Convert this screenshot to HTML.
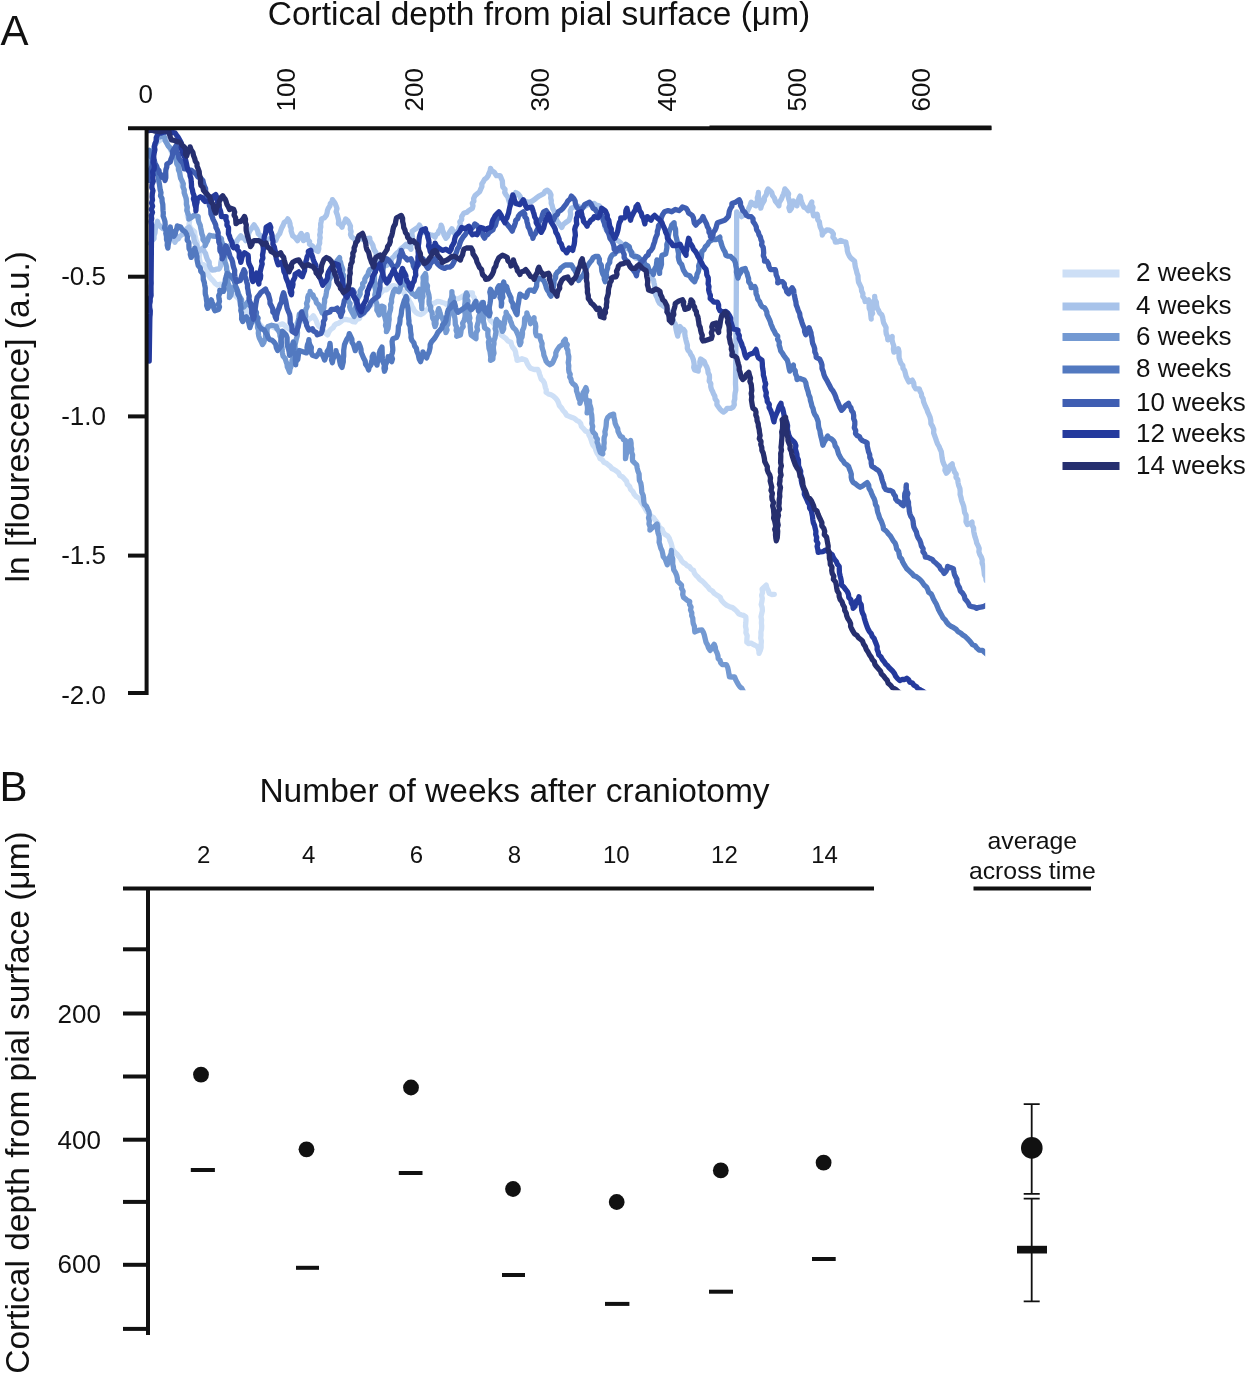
<!DOCTYPE html>
<html><head><meta charset="utf-8"><title>Figure</title>
<style>html,body{margin:0;padding:0;background:#fff}svg{display:block}</style></head>
<body>
<svg width="1245" height="1374" viewBox="0 0 1245 1374" font-family='"Liberation Sans", Arial, sans-serif' fill="#111">
<rect width="1245" height="1374" fill="#fff"/>
<text x="0.5" y="45.3" font-size="42">A</text>
<text x="539" y="24.8" font-size="33.5" text-anchor="middle">Cortical depth from pial surface (μm)</text>
<text x="145.7" y="103" font-size="26" text-anchor="middle">0</text>
<text transform="translate(295.2,89.8) rotate(-90)" font-size="26" text-anchor="middle">100</text>
<text transform="translate(422.9,89.8) rotate(-90)" font-size="26" text-anchor="middle">200</text>
<text transform="translate(549.0,89.8) rotate(-90)" font-size="26" text-anchor="middle">300</text>
<text transform="translate(676.2,89.8) rotate(-90)" font-size="26" text-anchor="middle">400</text>
<text transform="translate(805.6,89.8) rotate(-90)" font-size="26" text-anchor="middle">500</text>
<text transform="translate(930.2,89.8) rotate(-90)" font-size="26" text-anchor="middle">600</text>
<text x="106" y="285.1" font-size="26" text-anchor="end">-0.5</text>
<text x="106" y="424.6" font-size="26" text-anchor="end">-1.0</text>
<text x="106" y="564.1" font-size="26" text-anchor="end">-1.5</text>
<text x="106" y="703.6" font-size="26" text-anchor="end">-2.0</text>
<text transform="translate(28.5,416.7) rotate(-90)" font-size="33.5" text-anchor="middle">ln [flourescence] (a.u.)</text>
<clipPath id="cp"><rect x="146" y="126" width="839.2" height="564.3"/></clipPath>
<g fill="none" stroke-width="5.3" stroke-linejoin="round" stroke-linecap="round" clip-path="url(#cp)">
<path d="M149.3 168.9 L150.6 166.2 L151.2 163.4 L150.6 160.2 L151.3 157.4 L153.0 154.8 L153.5 151.9 L154.1 149.0 L154.2 146.1 L155.1 143.3 L157.5 142.0 L159.8 140.5 L162.1 139.1 L164.4 137.5 L166.0 139.8 L166.8 142.5 L167.9 145.0 L169.4 147.1 L170.4 149.6 L171.5 152.1 L172.9 154.2 L174.9 156.1 L175.6 159.0 L176.5 161.9 L177.6 164.8 L178.7 167.6 L179.5 170.5 L179.6 173.6 L180.4 176.5 L181.4 179.3 L182.1 182.3 L182.1 185.4 L183.4 188.1 L184.2 191.0 L184.6 194.2 L185.6 197.3 L186.4 200.4 L186.5 203.6 L187.2 206.7 L187.2 209.9 L187.7 213.1 L187.4 216.0 L188.4 218.7 L189.6 221.4 L189.0 224.4 L190.1 227.1 L191.3 229.0 L192.9 230.5 L194.7 231.8 L194.7 234.6 L195.5 237.3 L196.0 240.0 L197.2 242.6 L196.9 245.5 L198.2 248.1 L198.0 251.2 L199.6 254.1 L199.2 257.2 L199.7 260.2 L200.5 263.2 L202.9 264.3 L205.2 265.5 L206.3 268.4 L207.5 271.3 L208.1 274.5 L209.8 277.2 L211.3 279.0 L213.4 281.0 L215.1 283.4 L217.5 285.1 L220.1 284.2 L223.0 284.3 L225.6 283.1 L226.8 285.5 L228.9 287.1 L230.4 289.3 L231.7 291.7 L233.8 293.3 L235.2 295.5 L237.1 297.3 L239.0 299.1 L240.5 301.2 L241.9 303.4 L243.3 306.0 L245.6 308.0 L246.3 311.1 L248.7 313.0 L250.1 315.7 L251.8 317.7 L254.3 318.5 L255.8 320.8 L258.2 321.8 L259.5 324.0 L261.2 325.9 L262.8 327.9 L264.3 329.9 L266.5 328.8 L268.5 327.3 L270.5 325.9 L274.5 327.9 L277.1 326.3 L279.8 324.8 L282.7 323.8 L284.7 325.3 L286.4 327.4 L288.7 328.5 L290.8 329.9 L291.9 327.5 L294.5 326.2 L296.0 324.1 L297.8 322.2 L299.0 319.8 L301.8 320.0 L304.3 321.5 L307.1 321.8 L308.7 319.3 L311.4 317.9 L313.3 315.7 L314.9 318.2 L316.3 320.9 L317.3 323.8 L318.9 326.4 L321.9 327.8 L323.5 330.5 L325.2 333.0 L327.6 334.9 L328.5 332.7 L329.6 330.7 L331.2 328.9 L333.2 327.7 L334.3 325.6 L336.0 324.1 L338.5 323.2 L340.8 321.7 L342.9 319.9 L345.7 319.3 L348.1 319.8 L350.5 320.2 L352.6 321.6 L355.0 322.0 L356.6 319.6 L359.5 318.5 L360.5 315.5 L363.2 314.2 L365.0 312.0 L366.4 309.1 L368.7 307.0 L371.4 305.1 L372.6 302.1 L375.0 300.0 L376.4 297.6 L378.7 296.0 L380.1 293.7 L382.0 291.7 L383.7 289.9 L386.4 289.9 L388.1 288.1 L389.9 286.8 L391.8 285.9 L394.1 285.7 L396.2 286.3 L398.0 287.5 L400.1 288.1 L401.3 290.4 L403.6 292.0 L404.8 294.3 L406.1 296.5 L408.3 298.5 L409.4 301.3 L411.0 303.7 L411.9 306.0 L413.1 308.1 L414.1 310.4 L415.8 312.2 L418.0 313.7 L420.6 314.6 L423.3 313.2 L425.4 311.0 L427.4 309.4 L429.0 307.3 L430.6 305.2 L432.7 303.7 L435.2 302.7 L437.5 301.3 L440.0 301.6 L442.3 302.5 L445.0 303.2 L447.1 304.9 L449.5 303.2 L452.2 302.2 L454.3 300.1 L456.1 298.8 L458.4 298.6 L460.4 297.7 L462.3 296.4 L464.4 295.3 L466.4 294.1 L469.3 293.0 L472.4 292.9 L472.5 295.5 L474.3 297.6 L474.8 300.1 L475.9 302.2 L477.3 304.0 L478.4 306.1 L481.0 308.1 L482.4 311.0 L484.5 313.4 L486.9 315.5 L489.0 317.8 L490.5 320.6 L493.0 322.6 L494.9 325.1 L496.5 327.8 L498.6 329.9 L499.5 332.8 L501.3 335.1 L503.7 336.9 L506.1 338.7 L508.1 341.1 L511.0 342.3 L511.6 345.0 L512.7 347.4 L514.6 349.5 L515.6 352.1 L515.9 354.9 L516.8 357.6 L517.0 360.4 L519.5 359.7 L522.0 358.7 L525.7 359.9 L526.7 362.1 L527.7 364.3 L529.0 366.4 L530.5 368.3 L534.1 369.5 L537.7 369.5 L538.9 371.8 L539.6 374.3 L540.4 376.8 L541.3 379.2 L543.1 380.8 L544.3 382.8 L544.9 385.2 L545.4 387.6 L546.3 389.9 L546.1 392.4 L548.4 393.9 L551.0 394.8 L553.6 396.3 L555.8 398.4 L557.5 400.6 L558.6 403.1 L559.4 405.7 L561.5 407.9 L563.0 410.5 L565.1 412.6 L566.6 415.3 L568.6 416.1 L570.7 416.9 L572.7 417.7 L574.8 418.7 L576.6 420.3 L578.7 421.3 L580.7 423.5 L581.4 426.5 L583.5 428.6 L585.5 431.0 L588.3 432.2 L588.9 435.0 L590.3 437.4 L591.2 440.1 L592.0 442.8 L593.1 445.4 L595.1 447.8 L596.0 450.7 L597.2 453.4 L599.0 455.8 L600.0 458.7 L602.4 459.8 L603.8 462.2 L606.3 463.2 L608.2 464.9 L610.2 466.4 L611.9 468.5 L614.2 469.6 L616.3 471.0 L618.6 472.8 L619.9 475.6 L622.6 476.9 L624.5 479.1 L626.6 481.3 L627.3 484.3 L629.6 486.4 L630.6 489.3 L632.9 491.6 L634.3 494.5 L636.5 496.8 L639.3 498.6 L640.8 501.5 L642.4 504.0 L644.0 506.5 L645.4 509.1 L646.9 511.7 L649.2 513.4 L650.9 515.9 L653.4 517.4 L655.0 519.9 L656.9 522.2 L658.4 524.7 L659.4 527.6 L662.1 529.3 L663.2 532.1 L665.0 534.4 L667.6 535.8 L669.3 538.2 L670.0 540.7 L671.1 543.1 L671.8 545.6 L672.2 548.2 L673.4 550.5 L675.1 552.4 L677.1 554.2 L678.7 556.3 L680.4 558.3 L681.5 560.7 L683.2 562.6 L685.5 563.9 L687.2 565.8 L689.7 566.8 L691.1 569.0 L693.5 570.4 L694.4 573.1 L695.9 575.2 L697.9 577.0 L699.7 579.3 L702.0 581.0 L704.1 582.9 L706.0 585.1 L708.1 587.1 L709.8 589.5 L712.4 591.0 L714.2 593.3 L716.2 594.7 L718.3 596.0 L720.3 597.4 L721.1 599.8 L722.7 601.7 L724.4 603.5 L726.8 605.4 L729.6 606.7 L732.5 607.6 L734.7 609.4 L736.9 611.4 L738.6 613.7 L741.0 614.7 L743.5 615.4 L745.8 616.7 L746.0 619.9 L745.8 623.1 L745.5 626.3 L746.2 629.5 L745.9 632.7 L747.2 635.8 L746.9 639.0 L746.8 642.2 L748.6 643.6 L751.0 643.1 L752.9 644.3 L755.0 645.2 L757.0 646.3 L758.3 648.5 L758.9 650.9 L759.0 653.4 L760.3 650.5 L761.1 647.5 L761.1 644.3 L761.4 641.2 L760.7 638.2 L761.0 635.1 L760.9 632.0 L761.6 629.0 L761.7 625.9 L761.4 622.9 L761.6 619.8 L761.0 616.7 L761.7 613.7 L762.4 610.6 L762.2 607.6 L761.2 604.5 L761.9 601.4 L762.3 598.4 L761.6 595.3 L762.6 592.3 L762.1 589.2 L764.1 587.1 L766.2 585.1 L766.9 587.9 L768.3 590.5 L769.2 593.3 L771.6 594.5 L774.3 594.3" stroke="#cddff6"/>
<path d="M150.5 243.4 L151.9 240.8 L154.0 238.7 L154.0 235.7 L155.0 232.9 L155.2 229.9 L155.7 227.0 L156.8 224.2 L157.5 221.3 L158.1 223.6 L159.4 225.4 L161.0 227.1 L162.7 228.6 L165.1 229.1 L166.8 230.6 L168.4 233.0 L170.3 235.0 L172.1 237.3 L173.8 239.5 L174.9 242.2 L176.1 240.0 L178.5 238.7 L179.6 236.4 L181.8 234.9 L183.6 233.0 L185.5 231.1 L186.7 228.6 L188.9 227.1 L190.3 229.3 L191.1 231.8 L192.1 234.2 L193.6 236.4 L194.0 239.6 L194.9 242.6 L197.0 245.3 L197.1 248.5 L198.2 251.5 L200.7 250.0 L202.9 248.1 L204.0 251.0 L205.6 253.7 L206.4 256.8 L207.5 259.7 L209.2 262.1 L209.3 265.2 L210.5 267.8 L212.2 270.2 L214.5 269.9 L216.8 269.1 L219.2 269.0 L220.6 266.0 L220.8 262.8 L221.5 259.7 L223.2 257.6 L224.3 255.3 L225.0 252.7 L226.0 250.4 L227.3 248.1 L229.3 246.2 L231.1 244.1 L233.1 242.2 L236.0 243.0 L237.2 240.3 L239.0 238.0 L240.8 235.8 L242.1 237.7 L244.5 238.5 L245.7 240.6 L246.3 237.6 L248.3 235.3 L249.0 232.4 L250.5 229.8 L252.3 227.4 L254.1 224.9 L255.3 226.9 L256.7 228.8 L257.7 231.0 L258.2 233.7 L260.5 235.6 L261.3 238.2 L263.8 239.3 L266.1 240.6 L268.4 239.0 L271.0 238.2 L273.3 239.6 L275.8 240.6 L276.7 238.0 L278.0 235.7 L279.7 233.6 L280.6 231.0 L281.6 228.1 L283.1 225.4 L284.2 222.5 L286.4 221.1 L287.8 218.9 L289.2 221.1 L290.0 223.5 L290.2 226.1 L291.2 228.4 L291.1 231.0 L291.9 233.4 L292.7 235.8 L294.6 237.1 L296.1 238.8 L297.5 240.6 L298.3 238.0 L299.8 235.8 L301.1 233.4 L302.6 235.6 L302.4 238.3 L303.5 240.6 L305.2 238.9 L306.5 237.0 L307.1 234.6 L307.4 237.1 L307.6 239.6 L309.6 241.6 L309.5 244.2 L312.1 245.7 L314.3 247.8 L315.7 250.1 L318.0 251.4 L318.8 248.7 L318.6 245.9 L319.7 243.3 L319.6 240.5 L320.2 237.7 L319.7 234.9 L320.4 232.2 L320.2 229.5 L320.8 226.9 L320.6 224.2 L321.2 221.5 L321.6 218.9 L324.4 217.7 L326.4 215.3 L327.1 212.8 L327.5 210.2 L328.5 207.9 L330.0 205.7 L330.3 203.5 L332.0 201.8 L332.4 199.6 L333.8 201.5 L335.1 203.5 L336.0 205.7 L337.0 208.6 L336.1 211.8 L337.3 214.7 L338.0 217.6 L338.7 220.6 L338.4 223.7 L340.7 225.0 L342.0 227.3 L342.8 224.3 L344.7 221.8 L345.7 218.9 L347.9 221.0 L349.3 223.7 L350.5 226.2 L350.3 229.0 L351.1 231.6 L350.5 234.5 L351.7 237.0 L353.9 238.4 L355.3 240.6 L357.7 239.4 L360.1 238.2 L362.4 239.2 L364.9 239.4 L367.3 238.7 L369.8 238.2 L370.0 240.9 L371.6 243.0 L372.9 245.3 L373.4 247.8 L374.4 250.2 L375.9 252.4 L376.2 255.0 L377.0 257.5 L378.8 259.7 L380.0 262.3 L380.0 262.4 L381.9 264.7 L384.5 266.0 L387.1 265.2 L389.3 263.6 L390.9 261.2 L391.9 258.4 L394.1 256.4 L395.4 254.5 L397.0 252.9 L398.9 251.6 L400.2 249.7 L401.8 248.1 L403.7 246.7 L406.1 244.3 L407.3 246.3 L409.7 247.2 L411.0 249.2 L410.5 246.1 L412.0 243.2 L411.7 240.2 L412.5 237.2 L411.9 234.1 L412.2 231.1 L415.8 228.7 L418.0 227.3 L419.4 225.1 L420.8 227.6 L422.2 230.1 L424.2 232.3 L426.1 233.4 L428.2 233.9 L430.2 234.7 L432.9 235.4 L435.1 237.1 L435.9 234.9 L438.0 233.4 L438.7 231.1 L440.1 229.3 L440.9 227.3 L441.1 225.1 L442.1 227.4 L442.5 230.0 L443.5 232.3 L443.9 234.5 L444.9 236.4 L445.9 238.3 L447.5 236.5 L448.3 234.3 L449.5 232.3 L451.9 228.7 L452.9 230.8 L454.1 232.8 L455.5 234.7 L456.4 232.1 L458.5 230.2 L459.2 227.5 L460.5 224.9 L459.8 221.9 L461.7 219.5 L461.6 216.6 L464.0 213.0 L466.7 212.4 L468.8 210.6 L472.4 208.2 L473.0 205.8 L472.3 203.3 L473.9 201.1 L473.6 198.6 L474.9 195.8 L477.2 193.7 L479.6 191.7 L480.8 188.9 L481.9 186.6 L481.8 183.9 L483.3 181.7 L484.5 179.4 L486.7 177.8 L488.1 175.7 L489.0 173.3 L490.1 170.9 L490.5 168.4 L491.8 170.7 L494.1 172.0 L496.5 175.7 L500.1 175.7 L501.3 178.4 L502.4 181.1 L502.5 184.1 L502.8 187.0 L505.0 189.3 L504.7 192.4 L506.1 194.9 L507.9 197.1 L508.6 199.8 L509.4 202.4 L511.0 204.6 L512.4 202.3 L513.4 200.0 L514.0 197.4 L515.4 195.1 L515.8 192.5 L518.2 194.0 L520.0 196.1 L520.8 198.6 L522.0 201.0 L525.1 201.4 L528.1 202.2 L530.3 201.9 L532.3 201.0 L534.1 199.8 L536.5 197.9 L538.9 196.1 L541.3 194.9 L543.7 193.7 L545.0 191.4 L547.3 190.1 L549.8 192.5 L551.0 195.0 L550.6 197.8 L551.3 200.5 L551.2 203.2 L552.2 205.8 L552.8 208.6 L554.3 211.3 L554.6 214.2 L556.0 217.0 L556.6 220.0 L558.2 222.7 L560.0 225.1 L561.8 227.5 L563.0 224.7 L565.4 222.7 L569.0 220.2 L570.1 217.3 L570.7 214.3 L570.2 211.1 L571.4 208.2 L573.9 207.1 L576.3 205.8 L578.4 206.4 L580.1 207.8 L582.3 208.2 L584.2 206.8 L586.1 205.5 L588.3 204.6 L591.3 204.0 L594.3 203.4 L596.4 205.2 L599.2 205.8 L600.6 208.5 L601.4 211.3 L601.4 214.3 L601.8 217.2 L603.2 219.9 L604.0 222.7 L604.9 225.1 L605.1 227.7 L606.4 229.9 L607.7 231.8 L610.1 232.6 L611.2 234.7 L612.4 236.7 L614.7 237.6 L616.0 239.5 L619.6 241.9 L621.5 243.7 L622.5 246.3 L624.5 248.0 L626.9 248.5 L629.3 249.2 L630.5 251.8 L632.9 253.7 L634.1 256.4 L635.8 258.1 L638.3 258.4 L640.1 260.0 L642.5 262.1 L644.1 264.8 L646.1 267.2 L647.5 269.2 L648.5 271.5 L649.2 273.9 L651.0 275.7 L651.6 278.2 L653.5 280.2 L654.0 282.8 L654.6 285.3 L654.8 292.5 L655.9 295.3 L657.2 297.9 L658.1 300.8 L659.6 303.4 L661.5 304.7 L663.3 306.0 L665.9 307.7 L667.8 310.0 L669.2 312.7 L671.7 314.5 L672.8 316.8 L673.1 319.4 L673.7 322.0 L675.3 324.1 L675.7 327.1 L676.2 330.2 L676.9 333.1 L677.7 336.1 L678.0 333.6 L679.5 331.5 L679.5 328.9 L680.1 326.5 L681.3 328.5 L683.5 329.5 L684.9 331.3 L684.8 334.2 L685.3 337.0 L685.9 339.8 L686.6 342.6 L687.4 345.3 L687.3 348.2 L688.2 350.5 L689.9 352.3 L690.8 354.6 L692.2 356.6 L693.2 359.2 L693.8 361.8 L694.2 364.5 L693.7 367.3 L694.6 369.9 L698.2 371.1 L698.3 368.0 L700.0 365.2 L699.8 362.0 L700.6 359.0 L704.2 361.4 L705.3 364.3 L706.8 367.0 L707.8 369.9 L708.1 372.7 L709.4 375.3 L709.5 378.1 L709.2 381.0 L710.8 383.6 L710.7 386.5 L711.4 389.2 L712.6 391.5 L713.5 393.9 L714.8 396.1 L715.1 398.8 L717.0 401.3 L716.9 404.7 L718.7 407.2 L720.0 409.1 L721.6 410.7 L723.5 412.0 L725.6 410.5 L727.1 408.4 L730.7 408.4 L733.0 407.1 L734.3 404.8 L734.0 401.8 L734.8 399.0 L734.8 396.0 L735.1 393.1 L735.8 390.2 L735.7 387.3 L735.5 384.3 L736.3 300.0 L736.7 211.8 L737.8 213.9 L740.4 214.6 L741.6 216.6 L744.1 215.0 L746.4 213.0 L747.8 210.4 L749.1 207.7 L750.2 205.0 L751.2 202.2 L753.3 204.4 L756.0 205.8 L756.2 203.1 L757.6 200.6 L757.3 197.8 L758.1 195.2 L758.4 192.5 L758.3 195.7 L759.1 198.8 L760.1 201.9 L760.7 205.0 L760.8 208.2 L761.5 205.4 L762.8 202.8 L764.3 200.3 L764.5 197.3 L766.3 194.7 L766.8 191.6 L768.1 188.9 L770.0 190.6 L771.7 192.5 L772.5 195.5 L774.4 198.0 L775.3 201.0 L777.2 203.3 L778.9 205.8 L779.1 203.1 L780.3 200.8 L781.7 198.5 L782.5 196.1 L783.6 193.8 L784.3 191.4 L784.9 188.9 L786.9 191.2 L788.6 193.7 L788.1 196.6 L788.8 199.3 L789.7 202.1 L790.0 204.9 L788.9 207.8 L789.8 210.6 L791.4 208.5 L792.2 206.0 L792.6 203.5 L793.4 201.0 L795.4 203.2 L797.0 205.8 L797.2 203.2 L798.2 200.8 L798.9 198.4 L800.0 196.1 L800.5 196.7 L800.8 199.5 L801.7 202.1 L802.7 204.7 L804.0 207.2 L806.5 208.5 L808.3 210.7 L809.1 207.6 L810.4 204.7 L811.8 201.9 L811.5 204.8 L813.0 207.4 L812.4 210.4 L813.0 213.1 L813.6 215.9 L817.1 214.2 L817.7 216.8 L817.7 219.6 L819.4 221.9 L819.7 224.6 L820.3 227.2 L821.5 229.7 L822.2 232.3 L822.3 235.1 L823.2 232.9 L825.0 231.5 L826.7 229.9 L829.5 230.2 L831.9 231.6 L833.4 234.0 L832.9 237.1 L834.8 239.4 L835.4 242.1 L838.2 241.8 L840.7 240.4 L843.2 241.5 L845.9 242.1 L846.3 245.0 L847.1 247.8 L847.3 250.7 L848.1 253.4 L849.4 256.1 L850.9 258.1 L852.8 259.6 L854.6 261.3 L854.9 264.3 L855.4 267.2 L856.3 270.1 L856.9 273.0 L858.0 275.8 L858.1 278.8 L858.5 282.0 L859.9 284.9 L861.3 287.8 L861.6 291.0 L862.9 293.5 L862.8 296.4 L864.6 298.8 L865.1 301.5 L868.6 299.8 L869.1 302.5 L869.1 305.3 L869.2 308.1 L870.3 310.7 L870.6 313.5 L870.9 316.2 L871.2 319.0 L870.9 316.1 L872.6 313.4 L871.8 310.4 L873.6 307.8 L872.9 304.7 L873.3 301.9 L874.8 299.2 L874.7 296.3 L874.9 299.5 L876.4 302.3 L876.6 305.5 L877.4 308.5 L878.7 310.7 L879.7 313.0 L881.7 314.8 L882.6 317.2 L883.0 320.0 L883.6 322.7 L884.9 325.2 L886.1 327.7 L885.9 330.8 L886.3 333.9 L887.6 336.8 L887.8 339.9 L890.3 338.6 L892.2 336.5 L892.0 339.7 L892.7 342.8 L893.8 345.9 L893.4 349.1 L893.9 352.2 L896.5 350.9 L898.3 348.7 L899.0 351.7 L899.0 354.8 L899.1 357.9 L900.1 360.9 L901.0 363.4 L902.8 365.5 L903.0 368.3 L904.6 370.5 L905.3 373.1 L906.0 376.2 L907.4 379.1 L908.8 381.9 L912.3 380.1 L913.7 382.9 L914.1 386.2 L915.8 388.9 L919.3 388.9 L920.1 391.4 L921.4 393.7 L921.7 396.4 L923.1 398.6 L923.5 401.5 L924.5 404.1 L925.6 406.8 L926.9 409.4 L927.8 412.1 L929.0 414.7 L930.1 417.3 L930.8 420.4 L930.9 423.7 L932.6 426.5 L933.8 429.5 L933.6 432.9 L934.7 435.9 L935.7 438.6 L936.6 441.3 L937.6 444.0 L939.1 446.5 L940.1 449.1 L941.3 451.7 L941.7 454.6 L942.1 457.8 L942.7 461.0 L943.8 464.0 L945.4 466.9 L944.9 470.3 L946.4 473.2 L948.3 471.1 L949.3 468.6 L950.1 465.8 L952.2 463.9 L952.5 466.7 L953.7 469.3 L954.5 471.9 L956.2 474.3 L956.0 477.3 L957.8 479.6 L958.0 482.5 L958.7 485.5 L959.9 488.4 L960.2 491.5 L960.1 494.6 L961.0 497.6 L961.6 500.6 L962.7 503.5 L963.7 506.4 L964.2 509.5 L964.6 512.5 L966.1 515.3 L966.2 518.5 L966.0 521.7 L967.4 524.5 L969.9 523.6 L972.0 522.1 L972.1 525.2 L973.6 528.0 L973.7 531.2 L974.3 534.2 L975.1 537.2 L976.1 540.1 L976.7 543.1 L978.1 545.7 L979.2 548.5 L978.9 551.7 L979.8 554.5 L981.3 557.1 L982.2 559.9 L982.1 563.0 L983.2 565.8 L983.7 568.7 L984.1 571.7 L984.4 574.7 L985.8 577.5 L986.1 580.5" stroke="#a8c3ea"/>
<path d="M149.1 168.9 L150.0 166.2 L150.6 163.4 L150.6 160.5 L150.7 157.6 L151.6 154.9 L151.9 151.8 L153.8 149.2 L154.5 146.2 L155.9 143.4 L156.3 140.3 L157.5 137.5 L160.6 136.7 L163.3 135.1 L164.8 137.7 L165.2 140.7 L166.8 143.3 L168.1 145.8 L170.1 147.9 L171.6 150.3 L173.1 152.7 L174.9 154.9 L176.1 157.7 L176.4 160.8 L176.8 163.8 L178.4 166.5 L178.4 169.6 L179.6 172.4 L180.1 175.4 L180.6 178.3 L182.1 181.0 L183.3 183.8 L183.0 187.0 L184.2 189.8 L184.2 192.8 L185.2 195.6 L186.2 198.5 L186.5 201.4 L186.4 204.4 L187.3 207.3 L186.8 210.3 L187.8 213.2 L188.9 216.0 L188.9 219.0 L191.4 217.4 L193.6 215.5 L195.9 215.8 L198.2 216.6 L198.2 219.6 L198.9 222.4 L200.2 225.1 L200.7 228.0 L201.3 230.8 L201.8 233.7 L202.9 236.4 L203.0 239.7 L205.1 242.4 L205.2 245.7 L206.2 243.0 L207.6 240.6 L208.4 237.8 L209.8 235.3 L212.7 236.0 L215.7 236.4 L218.8 237.0 L221.5 238.7 L221.5 241.2 L222.6 243.4 L223.8 245.6 L223.8 248.1 L224.6 258.9 L224.9 261.7 L225.9 264.4 L226.6 267.1 L226.7 269.9 L227.7 272.6 L228.1 275.4 L228.2 278.2 L227.8 281.0 L228.2 283.7 L229.4 286.4 L228.5 289.3 L229.8 291.9 L229.5 294.7 L229.4 297.5 L230.9 295.3 L231.4 292.7 L231.8 290.1 L233.0 287.8 L236.6 290.2 L238.0 292.6 L239.1 295.0 L240.2 297.5 L241.6 299.7 L241.4 302.6 L243.6 304.5 L243.9 307.1 L245.6 304.6 L247.5 302.3 L248.8 304.5 L250.8 306.2 L252.3 308.3 L252.8 311.3 L255.0 313.6 L255.2 316.8 L257.1 319.2 L256.9 322.0 L257.5 324.7 L257.5 327.5 L258.6 330.2 L258.3 333.0 L258.7 335.7 L259.5 338.4 L260.5 340.4 L261.5 342.4 L262.5 344.5 L263.8 342.6 L264.4 340.4 L265.5 338.4 L265.5 335.3 L267.1 332.5 L267.0 329.3 L268.0 326.4 L271.6 325.2 L274.0 325.8 L276.4 326.4 L276.9 328.9 L278.7 331.0 L279.8 333.3 L280.0 336.0 L281.0 338.7 L280.7 341.7 L281.4 344.4 L282.0 347.2 L282.1 350.1 L282.4 352.9 L283.0 356.0 L285.1 358.4 L286.0 361.3 L287.0 364.0 L287.3 366.9 L288.5 369.5 L289.6 372.2 L290.0 369.2 L291.0 366.4 L291.8 363.5 L292.0 360.5 L293.3 357.7 L293.6 354.5 L294.0 351.4 L295.2 348.3 L295.0 345.1 L295.7 342.0 L296.3 339.0 L297.2 335.9 L297.5 332.8 L297.1 329.7 L297.9 326.6 L297.8 323.5 L298.3 320.4 L298.9 317.4 L299.3 314.3 L302.9 311.9 L303.1 314.4 L303.5 316.9 L305.0 319.1 L305.3 321.6 L304.9 318.5 L305.8 315.6 L305.5 312.5 L305.8 309.5 L307.2 306.6 L306.5 303.5 L307.7 300.5 L307.7 297.5 L308.3 295.4 L309.9 293.7 L310.1 291.4 L310.8 293.7 L313.1 295.1 L313.7 297.5 L315.7 299.6 L316.4 302.7 L318.6 304.7 L319.6 307.6 L321.1 310.3 L322.2 313.1 L323.2 310.4 L323.9 307.6 L324.0 304.7 L324.6 301.9 L324.6 299.0 L325.8 296.3 L326.3 293.2 L326.7 290.1 L328.1 287.3 L328.8 284.3 L328.8 281.1 L330.0 278.2 L331.4 276.4 L332.4 274.3 L332.7 271.1 L333.6 268.1 L335.3 265.4 L336.0 262.3 L337.8 259.9 L339.6 257.5 L339.6 260.0 L340.6 262.3 L341.1 264.8 L342.0 267.1 L342.9 269.8 L342.2 272.7 L343.7 275.3 L343.3 278.2 L343.2 281.0 L343.5 283.7 L344.5 286.4 L344.8 289.6 L346.4 292.4 L346.9 295.5 L348.1 298.4 L348.4 301.2 L350.1 303.6 L349.6 306.6 L350.4 309.2 L351.7 311.7 L353.0 314.1 L354.1 316.5 L355.1 313.6 L355.2 310.5 L355.6 307.4 L356.8 304.5 L356.5 301.3 L357.7 298.4 L359.0 296.2 L360.2 293.9 L360.1 291.1 L361.3 288.8 L362.9 286.6 L362.6 283.7 L364.7 281.7 L364.8 279.0 L366.1 276.7 L368.0 274.6 L368.5 271.9 L369.8 269.5 L372.5 268.9 L374.6 267.1 L374.4 286.0 L375.4 288.9 L375.6 292.0 L374.8 295.1 L375.4 298.1 L375.8 301.1 L376.9 304.0 L377.0 307.0 L376.8 310.1 L378.2 312.4 L379.2 314.9 L379.4 311.8 L381.5 309.2 L381.6 306.1 L384.0 306.9 L383.9 310.0 L383.9 313.2 L384.6 316.2 L385.4 319.3 L386.1 322.3 L385.5 325.5 L386.7 328.5 L386.4 331.7 L388.0 328.5 L388.5 325.4 L388.7 322.4 L389.2 319.3 L389.0 316.2 L389.4 313.1 L390.4 310.1 L390.8 307.4 L390.5 304.7 L391.6 302.1 L391.5 299.4 L392.1 296.7 L392.8 294.1 L393.5 291.4 L395.2 289.2 L395.3 290.5 L398.9 291.7 L399.8 289.7 L400.3 287.6 L401.3 285.7 L403.7 282.0 L405.3 283.8 L406.5 285.9 L407.3 288.1 L409.1 290.0 L411.0 291.7 L412.2 293.7 L414.3 294.8 L415.8 296.5 L416.5 293.9 L418.0 291.6 L419.4 289.3 L420.1 292.0 L420.0 294.8 L420.0 297.6 L420.7 300.3 L421.6 303.0 L421.7 305.8 L421.8 308.6 L421.7 305.5 L422.0 302.3 L422.0 299.2 L423.0 296.1 L422.5 292.9 L422.8 289.8 L423.0 286.6 L423.0 283.5 L423.3 280.4 L423.0 277.2 L425.4 273.6 L426.0 276.7 L426.0 279.8 L425.9 282.9 L427.5 285.8 L427.2 289.0 L428.0 292.0 L428.9 295.1 L429.3 298.1 L429.0 301.3 L429.2 304.2 L430.8 306.8 L430.5 309.8 L432.1 312.4 L432.3 315.3 L432.7 318.2 L434.2 320.8 L434.2 323.8 L435.1 326.6 L436.1 323.7 L435.9 320.5 L437.0 317.6 L438.1 314.7 L437.8 311.5 L438.7 308.6 L439.6 311.0 L440.2 313.5 L440.9 316.0 L442.3 318.2 L443.5 321.0 L443.5 324.1 L445.0 326.8 L445.7 329.7 L445.9 332.7 L447.1 330.0 L446.1 326.9 L447.9 324.2 L448.1 321.3 L448.4 318.4 L448.9 315.6 L449.3 312.7 L449.5 309.8 L449.6 306.7 L450.2 303.8 L450.3 300.7 L451.6 297.8 L451.9 294.8 L451.9 291.7 L452.0 294.7 L453.3 297.4 L453.2 300.4 L454.2 303.2 L454.3 306.1 L454.1 309.2 L454.4 312.2 L454.3 315.2 L454.9 318.2 L455.2 321.2 L455.3 324.3 L456.6 327.2 L456.1 330.3 L457.2 333.2 L456.7 336.3 L460.4 335.1 L460.9 332.2 L461.3 329.2 L463.2 326.6 L462.6 323.3 L464.0 320.6 L464.9 317.6 L465.2 314.5 L464.7 311.4 L465.6 308.3 L464.7 305.2 L465.1 302.1 L465.1 299.0 L465.5 295.9 L466.4 292.9 L467.5 295.6 L466.6 298.5 L468.0 301.1 L467.6 303.9 L468.5 306.6 L469.0 309.4 L468.8 312.2 L469.2 315.0 L469.9 317.9 L469.0 320.9 L470.2 323.6 L470.2 326.5 L470.5 329.4 L470.7 332.3 L471.2 335.1 L473.6 336.9 L476.0 338.7 L476.0 335.7 L476.1 332.8 L477.6 330.0 L476.9 326.9 L477.6 324.0 L478.5 321.2 L478.4 318.2 L479.1 315.6 L480.3 313.1 L480.7 310.5 L480.8 307.7 L480.8 305.0 L482.0 302.5 L482.2 305.7 L482.7 308.8 L482.4 312.0 L483.2 315.2 L483.3 318.3 L483.4 321.5 L484.2 324.6 L484.5 327.8 L488.1 330.2 L487.8 333.3 L488.0 336.3 L489.3 339.2 L488.4 342.3 L488.7 345.3 L489.0 348.4 L490.0 351.3 L490.4 354.3 L490.8 357.3 L490.5 360.4 L492.9 359.2 L493.0 356.1 L494.0 353.1 L493.5 350.0 L493.3 346.9 L494.0 343.9 L493.9 340.8 L495.0 337.8 L495.5 334.7 L496.0 331.7 L495.1 328.5 L495.8 325.5 L495.7 322.4 L496.5 319.4 L497.9 321.6 L500.1 323.0 L500.4 325.9 L501.7 328.6 L502.5 331.4 L503.7 328.8 L503.6 325.9 L504.5 323.2 L504.5 320.4 L504.9 317.6 L506.3 315.1 L506.1 312.2 L506.9 314.5 L508.4 316.3 L509.8 318.2 L510.2 320.8 L511.4 323.1 L512.1 325.6 L513.4 327.8 L515.7 329.9 L517.0 332.7 L518.3 335.6 L519.1 338.6 L519.1 341.7 L520.0 344.7 L521.0 342.2 L520.8 339.4 L522.0 337.0 L522.5 333.9 L522.4 330.6 L523.8 327.6 L524.4 324.5 L524.5 321.3 L524.7 318.3 L526.8 315.9 L526.9 312.9 L527.6 315.7 L529.2 318.1 L529.8 320.9 L530.5 323.7 L531.3 321.4 L533.2 319.9 L534.1 317.7 L533.9 320.8 L535.4 323.7 L535.8 326.7 L535.5 329.8 L535.6 332.9 L536.5 335.8 L540.1 335.8 L540.2 338.5 L541.1 341.1 L542.1 343.6 L541.9 346.4 L542.5 349.0 L543.5 352.0 L543.9 355.2 L545.1 358.1 L546.1 361.1 L547.7 363.2 L549.8 364.7 L552.1 363.4 L553.4 361.1 L554.5 358.4 L555.8 355.8 L555.8 352.8 L557.0 350.2 L559.4 346.6 L563.0 344.2 L563.5 341.5 L565.4 339.4 L565.4 342.2 L567.3 344.6 L566.5 347.7 L567.8 350.2 L568.0 353.3 L568.8 356.4 L568.7 359.5 L568.2 362.6 L568.8 365.7 L568.6 368.8 L569.0 371.9 L570.2 374.2 L569.7 376.9 L571.0 379.1 L571.4 381.6 L572.9 383.8 L575.1 385.2 L576.4 387.9 L576.5 390.9 L577.5 393.6 L578.1 396.0 L578.8 398.4 L580.0 400.7 L579.9 403.3 L580.7 400.9 L582.0 398.6 L582.3 396.0 L583.0 393.0 L584.6 390.4 L585.9 387.6 L586.8 390.7 L585.5 394.0 L585.6 397.1 L586.2 400.3 L586.7 403.4 L587.4 406.5 L587.5 409.7 L587.1 412.9 L588.0 409.9 L588.7 406.9 L589.6 404.0 L589.5 400.8 L589.4 403.7 L590.4 406.4 L591.1 409.2 L591.0 412.1 L591.7 414.9 L591.9 417.7 L592.1 420.6 L591.8 423.5 L592.7 426.4 L592.1 429.4 L593.1 432.2 L595.5 434.6 L595.8 437.1 L597.4 439.2 L597.0 441.9 L598.0 444.2 L598.6 447.1 L599.4 449.9 L600.4 452.7 L602.8 453.9 L602.4 451.1 L604.0 448.5 L603.8 445.6 L604.2 442.9 L604.0 440.1 L604.2 437.3 L605.2 434.6 L604.9 431.7 L605.6 428.9 L606.1 426.1 L606.3 423.3 L606.5 420.4 L607.6 417.7 L610.0 415.3 L613.6 414.1 L613.9 417.2 L614.7 420.2 L615.1 423.2 L616.3 426.1 L617.7 428.5 L618.0 431.3 L619.2 433.8 L620.4 436.3 L622.5 437.2 L623.4 439.5 L625.5 440.4 L625.5 458.7 L626.1 455.6 L626.7 452.5 L627.6 449.4 L629.5 446.7 L629.3 443.3 L630.6 440.4 L631.1 443.3 L631.1 446.2 L631.7 449.1 L631.5 452.1 L632.6 454.9 L632.4 457.9 L632.6 460.8 L634.6 462.9 L636.7 464.9 L637.2 468.0 L637.9 471.0 L639.1 474.0 L639.2 477.1 L639.4 480.3 L640.8 483.2 L641.3 486.2 L641.6 489.3 L641.8 492.4 L643.2 495.3 L643.6 498.4 L643.8 501.5 L644.4 504.4 L646.6 506.5 L647.7 509.1 L648.9 511.7 L649.3 514.8 L648.5 517.9 L649.3 520.9 L649.0 524.0 L650.2 527.0 L649.9 530.1 L652.1 527.8 L654.8 526.2 L657.1 524.0 L657.7 527.0 L657.5 530.1 L658.1 533.2 L659.1 536.1 L659.3 539.2 L659.1 542.3 L660.0 545.1 L660.7 548.0 L662.0 550.7 L662.7 553.6 L663.2 556.6 L665.2 559.0 L666.2 561.9 L667.3 564.8 L667.8 561.9 L668.8 559.0 L669.9 556.3 L671.1 553.5 L671.4 550.5 L671.4 553.3 L671.7 556.0 L672.7 558.6 L672.7 561.4 L672.7 564.1 L673.4 566.8 L673.7 569.8 L675.4 572.4 L676.6 575.2 L677.3 578.1 L677.5 581.1 L679.5 583.1 L681.5 585.1 L681.5 588.3 L683.1 591.2 L682.7 594.4 L683.6 597.4 L685.5 598.9 L687.4 600.5 L689.7 601.4 L689.5 604.3 L691.1 607.0 L690.5 610.0 L691.8 612.8 L691.7 615.7 L692.8 618.3 L692.9 621.1 L693.3 623.8 L694.4 626.4 L694.6 629.2 L694.8 632.0 L697.0 630.9 L699.4 630.1 L701.9 630.0 L703.3 632.2 L704.2 634.7 L704.8 637.2 L705.4 639.7 L706.0 642.2 L707.5 644.9 L708.5 647.8 L710.1 650.4 L711.6 648.5 L712.8 646.3 L714.2 644.3 L715.3 647.1 L715.6 650.0 L717.0 652.7 L717.9 655.5 L718.2 658.5 L720.0 660.2 L720.7 662.7 L722.3 664.6 L726.4 664.6 L727.7 667.5 L728.4 670.6 L728.9 673.8 L729.5 676.9 L732.0 677.0 L734.6 676.9 L735.7 679.7 L737.1 682.4 L738.6 685.0 L739.9 686.8 L741.7 688.1 L742.7 690.1 L744.1 692.8 L746.2 695.0 L748.4 697.0 L750.2 699.5" stroke="#7399d2"/>
<path d="M149.1 150.3 L150.5 152.9 L150.4 156.1 L152.6 158.5 L152.7 161.5 L154.0 164.2 L155.5 166.8 L156.2 169.7 L156.0 172.8 L158.1 175.3 L158.6 178.2 L158.8 181.1 L159.4 184.0 L159.8 186.9 L160.2 189.8 L161.0 192.7 L160.5 195.7 L162.0 198.5 L162.1 201.4 L162.8 204.3 L162.9 207.2 L163.0 210.2 L163.3 213.1 L163.1 216.1 L164.2 218.9 L165.0 221.8 L165.2 224.7 L164.5 227.8 L166.2 230.5 L165.8 233.5 L166.5 236.4 L166.5 239.4 L167.4 242.2 L167.2 245.2 L167.9 248.1 L168.2 245.1 L168.8 242.1 L169.5 239.2 L169.4 236.1 L169.1 233.0 L169.3 230.0 L170.3 227.1 L170.5 229.7 L172.1 231.7 L173.4 233.9 L173.8 236.4 L175.3 234.0 L175.7 231.2 L176.8 228.6 L177.3 225.9 L180.7 227.1 L182.2 229.8 L184.9 231.6 L186.6 234.1 L187.4 237.0 L187.2 240.0 L188.9 242.7 L188.9 245.7 L189.1 248.7 L190.6 251.4 L190.3 254.5 L191.2 257.4 L192.4 255.2 L193.6 253.0 L194.3 250.6 L194.7 248.1 L195.3 251.0 L196.3 253.8 L197.0 256.7 L197.0 259.7 L197.6 262.6 L198.2 265.5 L200.3 267.9 L200.8 271.3 L202.9 273.7 L203.2 276.6 L203.3 279.5 L204.3 282.3 L204.7 285.2 L205.3 288.0 L205.2 291.0 L205.3 293.9 L206.1 296.7 L206.4 299.6 L206.9 302.5 L206.7 305.5 L207.7 308.3 L209.4 305.7 L209.7 302.5 L211.3 299.9 L212.3 302.6 L213.6 305.1 L213.8 308.1 L214.9 310.7 L218.6 309.5 L219.5 306.8 L218.5 304.0 L219.5 301.3 L219.0 298.5 L218.7 295.7 L220.0 293.0 L219.8 290.2 L223.4 291.4 L223.8 288.4 L224.1 285.3 L225.1 282.4 L225.4 279.3 L226.3 276.4 L227.0 273.4 L230.6 275.8 L232.5 278.2 L234.2 280.6 L235.0 283.2 L235.5 286.0 L236.7 288.5 L237.7 291.1 L237.8 293.9 L239.2 296.5 L240.0 299.3 L240.2 302.3 L240.5 305.1 L241.1 307.8 L240.8 310.6 L241.6 313.3 L241.7 316.1 L241.6 318.9 L242.7 321.6 L244.0 318.8 L246.3 316.7 L247.9 319.2 L248.6 322.0 L249.2 324.8 L249.9 327.6 L250.8 324.8 L251.9 322.1 L252.3 319.2 L252.7 316.1 L254.2 313.3 L253.4 310.0 L254.7 307.1 L254.9 310.0 L256.5 312.5 L256.2 315.5 L258.1 318.0 L257.5 321.1 L258.4 323.7 L259.5 326.4 L261.5 328.8 L264.3 330.0 L265.4 332.5 L267.2 334.6 L268.0 337.2 L269.6 339.4 L272.1 340.3 L274.0 342.0 L275.8 344.6 L276.3 347.7 L277.6 350.5 L279.4 348.1 L281.2 345.7 L281.4 342.8 L281.2 339.9 L281.4 337.0 L282.3 334.1 L282.4 331.2 L284.3 332.9 L286.0 334.8 L287.1 337.6 L287.1 340.6 L287.2 343.6 L287.7 346.6 L288.6 349.4 L289.2 352.3 L289.6 355.3 L290.1 352.6 L290.7 349.9 L291.4 347.2 L292.5 344.6 L293.3 342.0 L294.2 344.8 L293.6 347.8 L293.9 350.6 L294.3 353.5 L295.5 356.2 L295.3 359.2 L295.5 362.0 L295.7 364.9 L295.8 361.9 L297.8 359.3 L298.2 356.4 L298.6 353.4 L299.3 350.5 L302.9 351.7 L306.5 352.9 L307.3 350.3 L307.0 347.5 L307.5 344.8 L308.5 342.3 L308.9 339.6 L309.1 342.3 L309.9 344.9 L311.4 347.3 L311.1 350.1 L311.3 352.8 L312.5 355.3 L316.1 356.5 L317.6 354.7 L319.1 352.8 L319.8 350.5 L320.4 353.2 L322.6 355.1 L323.7 357.6 L324.6 360.1 L325.6 357.3 L327.1 354.7 L327.1 351.6 L328.8 349.1 L329.6 346.3 L330.0 343.3 L330.3 346.1 L330.5 348.9 L330.3 351.7 L330.9 354.4 L332.0 357.1 L331.5 360.0 L332.4 362.7 L332.9 359.5 L334.0 356.6 L335.8 353.8 L336.0 350.6 L336.5 353.6 L338.3 356.1 L339.3 358.9 L339.8 361.9 L340.5 364.9 L342.0 367.5 L342.6 364.7 L343.3 361.8 L343.3 358.9 L343.7 356.1 L343.7 353.2 L343.7 350.3 L344.1 347.5 L344.5 344.6 L345.7 341.9 L346.9 339.2 L348.6 336.6 L349.3 333.7 L350.6 336.4 L351.9 339.1 L352.0 342.3 L353.6 344.9 L354.4 347.7 L355.3 350.6 L356.0 347.9 L358.1 346.0 L358.9 343.4 L360.1 346.3 L361.0 349.3 L361.2 352.5 L362.5 355.4 L363.7 358.3 L365.2 361.1 L365.6 364.3 L367.5 366.9 L368.6 369.9 L369.2 367.2 L370.9 364.9 L371.4 362.2 L372.2 359.5 L372.2 356.7 L373.4 354.2 L373.9 357.1 L375.1 359.7 L375.6 362.5 L377.0 365.1 L377.4 362.2 L378.6 359.4 L379.2 356.5 L379.2 353.5 L380.0 350.6 L382.0 347.1 L382.1 350.1 L382.2 353.2 L382.2 356.2 L382.6 359.2 L383.1 362.2 L384.4 365.1 L384.0 368.2 L384.5 371.2 L385.5 368.4 L385.3 365.3 L386.6 362.5 L387.9 359.7 L388.1 356.7 L389.4 359.5 L391.7 361.6 L392.5 358.8 L391.4 355.8 L392.3 353.0 L392.8 350.2 L392.7 347.3 L392.3 344.4 L392.1 341.5 L392.9 338.7 L396.5 337.5 L397.6 334.9 L398.1 332.1 L398.3 329.3 L398.4 326.4 L399.6 323.8 L400.0 321.0 L400.1 318.2 L401.0 315.7 L401.4 313.0 L401.6 310.3 L402.2 307.7 L402.9 305.1 L403.7 302.5 L404.3 300.4 L405.3 298.5 L406.1 296.5 L407.0 299.5 L406.5 302.7 L407.4 305.8 L408.0 308.8 L408.3 312.0 L408.4 315.1 L408.6 318.2 L409.0 320.9 L408.9 323.8 L410.2 326.4 L410.4 329.2 L410.6 331.9 L411.1 334.7 L411.0 337.5 L411.9 340.4 L413.9 342.9 L414.6 345.9 L416.4 348.4 L416.9 351.5 L418.2 354.3 L418.7 356.8 L419.3 359.3 L420.6 361.6 L421.3 359.2 L421.5 356.7 L423.0 354.5 L423.0 351.9 L423.9 354.1 L425.4 356.0 L426.6 358.0 L427.4 355.4 L428.7 352.9 L429.5 350.2 L430.1 347.5 L430.2 344.7 L431.4 342.0 L433.3 339.8 L435.1 337.5 L436.6 335.0 L437.9 332.4 L439.9 330.2 L441.8 328.0 L442.6 325.0 L444.7 323.0 L446.0 320.5 L446.3 317.8 L447.0 315.1 L447.5 312.4 L448.3 309.8 L450.6 307.7 L451.9 304.9 L454.3 302.5 L455.1 305.0 L455.6 307.6 L456.5 310.0 L458.0 312.2 L461.6 309.8 L465.2 307.3 L467.6 304.9 L469.2 307.5 L471.2 309.8 L473.0 308.0 L473.6 305.5 L474.6 303.3 L476.0 301.3 L476.1 303.8 L477.2 306.2 L478.1 308.5 L478.4 311.0 L479.9 309.0 L480.8 306.7 L481.6 304.3 L483.3 302.5 L483.4 305.0 L484.5 307.3 L484.4 309.9 L485.7 312.2 L487.5 314.0 L489.3 315.8 L490.1 312.9 L489.3 309.9 L489.3 306.9 L489.9 304.0 L490.4 301.1 L490.6 298.2 L490.5 295.2 L489.8 292.2 L490.5 289.3 L491.8 291.6 L493.5 293.8 L494.1 296.5 L495.1 293.7 L497.1 291.4 L497.5 288.3 L498.9 285.7 L498.9 288.6 L499.4 291.5 L500.5 294.4 L500.0 297.4 L501.2 300.2 L501.4 303.1 L501.3 306.1 L501.7 303.1 L501.3 300.0 L502.9 297.1 L502.4 294.0 L503.0 291.1 L503.8 288.1 L502.8 285.0 L503.7 282.0 L504.2 284.8 L506.7 286.6 L507.3 289.3 L508.4 292.2 L509.6 295.0 L511.0 297.7 L511.2 300.9 L513.0 303.7 L513.1 307.0 L514.6 309.8 L515.6 312.3 L517.0 314.6 L517.4 311.7 L517.4 308.7 L517.9 305.8 L518.5 302.9 L518.9 299.9 L519.4 297.0 L520.0 294.1 L521.7 295.6 L523.9 296.1 L525.7 297.3 L527.1 295.0 L527.5 292.2 L529.3 290.1 L531.8 290.2 L534.1 291.3 L535.4 288.8 L536.6 286.2 L536.7 283.3 L537.3 280.5 L538.9 278.1 L541.5 278.9 L543.7 280.5 L544.8 282.8 L545.7 285.2 L546.3 287.7 L547.3 290.1 L548.8 291.9 L549.6 294.2 L551.0 296.1 L552.1 293.1 L552.8 290.0 L553.4 286.9 L553.9 283.8 L554.1 280.6 L555.6 277.7 L555.8 274.5 L557.2 272.3 L559.4 270.8 L560.6 268.4 L563.0 266.5 L565.4 264.8 L568.4 265.0 L571.4 264.8 L572.6 266.8 L573.7 268.9 L575.1 270.8 L576.2 273.1 L576.8 275.7 L577.5 278.2 L578.7 280.5 L580.1 278.4 L582.0 276.6 L583.5 274.5 L584.6 272.0 L585.9 269.6 L586.9 267.1 L588.3 264.8 L590.0 262.4 L591.8 260.2 L593.1 257.6 L595.4 256.5 L598.0 256.4 L599.4 259.2 L599.3 262.5 L601.3 265.2 L601.6 268.4 L601.9 271.2 L602.7 273.8 L604.2 276.3 L604.3 279.1 L605.2 281.7 L605.3 279.0 L606.7 276.5 L606.2 273.6 L606.6 271.0 L607.6 268.4 L607.8 265.2 L609.7 262.5 L609.9 259.3 L611.2 256.4 L612.6 254.6 L614.9 253.7 L616.0 251.6 L618.6 250.7 L620.8 249.2 L622.7 247.8 L624.1 246.0 L625.7 244.3 L629.3 246.7 L629.9 249.6 L631.6 252.2 L631.7 255.2 L634.0 256.3 L636.5 256.4 L638.6 257.4 L640.2 259.3 L642.5 260.0 L644.1 262.0 L645.1 264.6 L647.7 265.9 L648.6 268.4 L649.6 270.9 L652.3 272.1 L653.4 274.5 L654.1 271.6 L654.8 268.7 L656.3 266.0 L656.6 263.0 L657.0 260.0 L656.8 262.8 L657.4 265.4 L658.7 268.0 L659.6 270.5 L659.6 273.3 L659.5 270.2 L660.7 267.3 L661.5 264.3 L661.4 261.3 L661.4 258.2 L662.0 255.2 L665.7 254.0 L666.3 250.9 L666.9 247.8 L666.8 244.5 L667.9 241.5 L668.1 238.3 L668.4 235.5 L668.9 232.8 L669.6 230.2 L671.0 227.7 L671.7 225.1 L674.1 222.7 L674.3 225.9 L675.5 228.9 L675.7 232.0 L675.7 235.2 L676.5 238.3 L677.2 241.4 L677.2 244.5 L677.4 247.6 L678.0 250.7 L678.6 253.8 L678.3 256.9 L678.9 260.0 L679.8 262.5 L681.7 264.6 L682.5 267.2 L683.3 269.8 L684.7 272.2 L686.1 274.5 L689.8 275.7 L691.0 278.0 L692.7 280.0 L694.6 281.7 L695.5 279.3 L696.7 277.0 L697.0 274.3 L698.2 272.0 L698.9 269.1 L698.6 266.1 L699.5 263.2 L700.3 260.3 L701.3 257.5 L701.6 254.6 L701.8 251.6 L704.1 249.5 L705.4 246.7 L707.6 244.6 L709.0 241.9 L712.7 239.5 L716.3 239.5 L719.9 237.1 L719.8 239.7 L720.9 241.9 L721.5 244.3 L722.3 246.7 L723.5 249.5 L725.1 252.2 L725.9 255.2 L728.2 256.2 L730.7 256.4 L732.4 258.3 L734.3 260.0 L735.4 262.9 L735.9 266.0 L736.6 269.0 L736.4 272.1 L737.2 275.1 L738.0 278.1 L738.8 275.1 L740.7 272.5 L741.6 269.6 L745.2 268.4 L745.9 270.9 L747.1 273.2 L747.6 275.7 L748.6 278.7 L748.7 281.9 L750.8 284.5 L751.2 287.7 L754.8 286.5 L755.8 288.8 L755.9 291.3 L756.1 293.8 L757.2 296.1 L757.8 299.2 L759.7 301.8 L760.8 304.8 L762.2 306.7 L764.5 307.6 L765.7 309.6 L766.8 312.0 L767.0 314.6 L768.2 317.0 L769.3 319.3 L770.3 321.7 L771.0 324.2 L772.0 326.5 L772.9 328.9 L774.4 331.3 L775.6 334.0 L777.7 336.1 L777.6 339.3 L779.3 342.1 L779.1 345.2 L780.1 348.2 L780.7 350.9 L782.4 353.1 L783.7 355.4 L785.5 357.8 L787.3 360.2 L788.1 362.9 L788.6 365.6 L789.1 368.4 L789.8 371.1 L791.1 369.2 L791.7 366.8 L793.4 365.1 L793.4 368.2 L795.2 370.8 L795.5 373.8 L796.7 376.5 L797.0 379.5 L800.0 378.3 L802.1 379.3 L804.3 380.0 L805.8 382.7 L806.3 385.8 L807.1 388.7 L808.1 391.6 L808.7 394.6 L810.0 397.3 L810.4 400.4 L811.3 403.3 L811.9 406.1 L813.1 408.7 L813.6 411.5 L814.6 414.2 L816.3 416.6 L817.3 419.2 L818.2 421.9 L818.4 424.9 L818.8 427.8 L819.9 430.6 L820.3 433.6 L820.9 436.5 L821.7 439.4 L822.3 442.3 L822.9 445.2 L823.9 442.8 L825.2 440.5 L826.4 438.2 L827.6 435.9 L829.0 438.0 L831.5 439.0 L833.3 440.7 L834.6 442.9 L835.2 445.9 L836.9 448.3 L837.8 451.2 L838.6 454.0 L840.0 456.6 L841.5 459.2 L843.2 461.0 L844.5 463.2 L846.6 464.6 L848.5 466.2 L849.4 468.9 L850.5 471.5 L851.3 474.2 L851.2 477.2 L851.8 479.9 L853.2 482.5 L855.7 483.9 L857.8 485.7 L860.2 487.2 L862.7 485.9 L865.0 484.2 L867.2 482.5 L868.7 485.1 L869.0 488.2 L870.6 490.7 L871.6 493.5 L872.8 496.2 L874.2 498.8 L875.1 501.5 L875.4 504.3 L876.9 506.8 L877.2 509.7 L877.8 512.4 L878.8 515.1 L879.6 518.0 L881.0 520.6 L882.1 523.3 L883.1 526.1 L883.5 529.1 L885.6 530.5 L887.3 532.3 L888.8 534.3 L890.5 536.1 L891.9 538.5 L893.3 540.9 L895.1 543.1 L896.1 545.9 L896.6 548.8 L898.6 551.3 L899.1 554.2 L899.8 557.1 L901.7 559.1 L902.6 561.8 L903.9 564.1 L905.3 566.4 L906.8 568.7 L908.6 570.4 L910.4 572.1 L912.2 573.8 L913.8 575.7 L916.5 576.8 L918.7 578.5 L920.8 580.4 L922.6 582.7 L924.2 585.1 L926.5 587.0 L927.8 589.7 L928.7 592.3 L931.2 594.0 L932.4 596.4 L933.4 598.9 L934.7 601.3 L936.3 604.0 L937.5 606.9 L938.6 609.8 L940.2 612.6 L941.7 615.3 L943.1 617.9 L945.2 619.9 L946.7 622.4 L948.7 624.6 L951.1 626.3 L953.7 627.7 L956.1 629.3 L958.0 631.6 L960.6 633.0 L962.8 635.0 L965.3 636.6 L967.4 638.6 L969.2 640.5 L970.9 642.5 L972.5 644.6 L975.2 645.7 L976.7 647.9 L979.1 650.1 L982.5 650.4 L984.8 652.6 L987.1 654.6 L989.6 656.2 L992.7 656.9 L995.2 658.6" stroke="#5279c0"/>
<path d="M149.1 180.5 L149.7 177.8 L149.9 175.0 L150.6 172.2 L150.5 169.4 L151.9 166.8 L152.4 164.0 L152.6 161.2 L152.8 158.4 L154.4 160.8 L155.1 163.7 L156.6 166.2 L157.5 168.9 L159.0 170.6 L159.3 173.1 L161.0 174.7 L161.7 177.1 L164.2 178.2 L165.0 180.5 L165.8 177.8 L165.8 175.1 L165.7 172.3 L165.9 169.6 L166.8 166.9 L166.8 164.2 L170.3 161.9 L170.9 159.3 L172.0 156.9 L172.6 154.3 L172.6 151.5 L173.8 149.1 L176.1 145.6 L176.5 148.8 L176.9 152.0 L178.4 154.9 L178.9 158.0 L180.6 160.6 L182.5 163.0 L183.7 165.8 L184.2 168.9 L186.6 168.8 L188.8 170.4 L191.2 170.1 L193.7 172.0 L196.0 174.1 L197.8 176.8 L200.7 178.2 L202.9 180.5 L203.5 183.3 L204.4 186.1 L205.6 188.7 L205.6 191.7 L206.4 194.5 L206.6 197.4 L208.3 199.9 L209.0 202.7 L209.4 205.5 L210.7 208.1 L210.8 211.1 L211.0 214.0 L212.2 216.6 L213.1 219.4 L214.5 222.1 L215.7 224.8 L216.0 227.6 L217.3 230.0 L218.2 232.9 L218.0 236.0 L218.7 239.0 L218.8 242.1 L220.0 245.0 L219.8 248.1 L220.0 250.9 L221.6 253.4 L222.1 256.1 L222.2 258.9 L223.4 256.4 L224.3 253.8 L224.3 251.0 L225.0 248.3 L225.8 245.7 L227.4 248.3 L228.5 251.2 L229.4 254.1 L230.1 256.9 L231.7 259.3 L232.6 262.0 L233.0 264.9 L233.7 267.7 L234.7 270.4 L234.6 273.4 L234.9 276.3 L235.6 279.1 L236.6 281.8 L240.2 280.6 L241.1 277.9 L241.8 275.1 L242.9 272.5 L243.9 269.8 L245.2 272.7 L244.8 275.9 L245.9 278.8 L246.6 281.7 L247.5 284.7 L247.5 287.8 L248.1 290.5 L248.4 293.3 L249.2 296.0 L249.0 298.9 L249.8 301.6 L251.0 304.3 L251.1 307.1 L251.7 310.1 L251.7 313.3 L252.9 316.2 L253.5 319.2 L254.2 316.1 L253.9 312.9 L255.0 309.9 L255.5 306.8 L255.9 303.7 L256.5 300.6 L257.1 297.5 L259.0 295.2 L260.7 292.7 L263.1 290.9 L265.5 289.0 L266.7 291.8 L268.4 294.5 L269.2 297.5 L270.0 300.4 L270.0 303.4 L271.5 306.1 L272.8 308.9 L272.8 311.9 L274.7 314.0 L275.2 316.8 L276.4 319.2 L276.5 316.1 L277.2 313.3 L278.0 310.4 L279.2 307.6 L280.0 304.7 L281.6 301.9 L281.8 298.7 L282.6 295.7 L283.6 292.7 L284.3 295.1 L284.8 297.5 L285.5 299.9 L286.0 302.3 L286.6 305.4 L287.2 308.5 L288.4 311.4 L289.6 314.3 L290.1 317.1 L290.2 320.0 L290.2 322.8 L291.7 325.5 L292.0 328.3 L292.0 331.2 L295.7 333.6 L296.8 330.7 L297.8 327.7 L298.6 324.7 L299.3 321.6 L300.0 319.2 L301.0 316.9 L301.1 314.3 L301.7 311.9 L302.5 314.9 L303.5 317.8 L305.3 320.4 L306.3 322.8 L306.6 325.4 L307.7 327.7 L308.9 330.0 L312.5 328.8 L313.6 331.2 L316.2 332.4 L317.3 334.8 L321.0 333.6 L322.2 330.7 L322.6 327.7 L323.5 324.7 L323.4 321.6 L324.9 319.0 L324.7 315.8 L325.8 313.1 L330.0 311.9 L331.2 309.3 L334.8 309.3 L337.2 308.1 L338.2 311.0 L340.1 313.5 L340.8 316.5 L341.6 313.8 L342.7 311.2 L342.2 308.3 L343.3 305.7 L343.9 303.2 L344.3 300.6 L345.7 298.4 L346.9 296.1 L348.6 294.1 L350.5 292.4 L352.9 290.0 L354.2 292.5 L353.6 295.5 L354.5 298.1 L355.8 300.6 L356.5 303.3 L357.0 306.4 L358.0 309.4 L359.2 312.3 L360.1 315.3 L363.7 312.9 L365.2 310.8 L367.2 309.1 L368.6 306.9 L369.9 304.9 L370.7 302.7 L372.2 300.8 L374.8 298.6 L378.4 296.1 L378.7 292.9 L379.5 289.9 L380.0 286.8 L379.9 283.6 L380.8 280.5 L381.5 277.6 L382.4 274.8 L382.8 271.9 L383.0 268.9 L383.3 266.0 L383.9 263.3 L385.6 261.1 L386.9 258.8 L389.2 260.8 L391.0 263.2 L392.6 265.8 L394.1 268.4 L395.9 266.6 L397.7 264.8 L398.8 262.0 L399.3 259.1 L399.5 256.1 L400.9 253.4 L401.3 250.4 L402.1 252.4 L402.9 254.4 L403.7 256.4 L405.8 257.9 L407.3 260.0 L411.0 258.8 L412.0 261.2 L413.0 263.5 L413.4 266.1 L414.6 268.4 L416.4 266.6 L418.2 264.8 L419.7 262.8 L421.4 260.8 L423.0 258.8 L424.2 261.2 L425.1 263.7 L426.3 266.1 L427.8 268.4 L429.4 266.6 L430.1 264.3 L431.4 262.4 L433.6 260.9 L435.1 258.8 L436.1 261.6 L437.7 264.0 L439.9 266.0 L442.2 267.5 L444.7 268.4 L446.9 267.2 L449.5 267.2 L451.7 265.8 L453.1 263.6 L454.5 260.7 L454.2 257.4 L455.6 254.5 L456.7 251.6 L457.4 249.1 L458.9 246.9 L459.6 244.4 L460.4 241.9 L461.7 239.3 L463.2 236.8 L465.2 234.7 L466.4 232.7 L468.0 231.1 L470.0 229.9 L471.9 228.2 L473.7 226.3 L474.8 223.9 L476.9 225.4 L478.4 227.5 L482.0 229.9 L482.5 232.8 L483.0 235.7 L484.5 238.3 L485.7 236.0 L487.8 234.4 L489.3 232.3 L492.9 229.9 L493.7 227.4 L495.4 225.3 L496.1 222.8 L496.5 220.2 L498.5 217.8 L501.3 216.6 L503.3 218.4 L504.1 221.0 L506.1 222.7 L507.9 225.2 L509.8 227.5 L512.2 231.1 L513.1 228.4 L514.4 225.8 L515.3 223.0 L515.8 220.2 L517.8 218.6 L518.4 216.1 L520.0 214.2 L523.3 211.8 L524.8 214.0 L524.8 216.7 L526.6 218.8 L526.9 221.4 L527.7 224.2 L528.2 227.0 L529.7 229.5 L530.5 232.3 L531.2 234.4 L532.6 236.1 L532.9 238.3 L533.6 235.7 L535.4 233.6 L536.5 231.1 L537.9 228.5 L539.0 225.9 L538.5 222.7 L540.1 220.2 L541.9 217.6 L542.5 214.6 L543.7 211.8 L546.1 210.6 L547.5 212.5 L548.7 214.5 L549.8 216.6 L551.5 218.5 L553.4 220.2 L554.4 218.0 L555.3 215.7 L557.5 214.2 L558.2 211.8 L560.8 210.2 L563.0 208.2 L564.7 205.9 L566.5 203.6 L567.8 201.0 L570.2 199.0 L571.4 196.1 L573.6 198.3 L575.1 201.0 L575.4 203.6 L576.2 206.0 L577.5 208.2 L581.1 210.6 L582.1 208.5 L583.6 206.6 L584.7 204.6 L587.1 203.3 L589.5 202.2 L591.1 204.0 L592.0 206.1 L593.1 208.2 L595.3 209.6 L596.7 211.8 L598.8 214.1 L601.6 215.4 L603.0 217.6 L603.3 220.3 L604.4 222.7 L604.8 225.3 L606.4 227.5 L606.9 230.3 L608.4 232.8 L609.3 235.5 L610.0 238.3 L611.8 240.7 L613.0 243.3 L613.9 246.2 L614.2 249.2 L616.0 251.6 L617.1 249.5 L618.9 248.0 L620.8 246.7 L621.6 249.4 L623.0 251.9 L624.2 254.5 L624.1 257.6 L625.7 260.0 L627.8 261.6 L628.8 264.1 L630.5 266.0 L632.1 268.4 L633.7 270.7 L635.4 273.0 L636.5 275.7 L636.9 272.5 L638.2 269.6 L639.6 266.7 L640.1 263.6 L642.1 261.2 L644.4 259.1 L646.1 256.4 L648.2 254.8 L649.0 252.1 L651.0 250.4 L652.7 247.8 L653.5 244.8 L654.6 241.9 L655.2 239.2 L656.1 236.6 L657.3 234.1 L657.3 231.3 L658.2 228.7 L658.5 225.7 L660.6 223.2 L660.8 220.2 L661.5 217.2 L662.7 214.4 L664.5 211.8 L668.1 210.6 L671.7 211.8 L675.3 209.4 L678.9 210.6 L680.9 209.0 L682.5 207.0 L686.1 208.2 L687.6 210.5 L688.6 213.0 L692.2 215.4 L693.4 217.7 L693.8 220.3 L694.3 222.9 L695.8 225.1 L697.4 223.1 L699.4 221.4 L701.7 219.4 L703.0 216.6 L704.0 219.1 L705.3 221.5 L706.6 223.9 L707.4 226.7 L708.9 229.3 L709.0 232.3 L710.3 234.1 L710.4 236.4 L711.4 238.3 L712.9 235.6 L713.3 232.5 L715.1 229.9 L716.1 227.6 L716.7 225.1 L717.5 222.7 L721.1 221.4 L724.7 220.2 L726.6 218.5 L728.3 216.6 L728.9 213.9 L729.3 211.2 L730.3 208.6 L731.9 206.2 L731.9 203.4 L735.5 202.2 L739.2 199.8 L740.5 202.4 L740.5 205.4 L741.9 207.9 L742.8 210.6 L745.1 212.6 L746.4 215.4 L748.7 216.5 L751.2 216.6 L753.0 218.7 L753.1 221.7 L754.8 223.9 L756.2 226.6 L756.6 229.7 L758.4 232.3 L759.0 234.8 L760.4 237.0 L760.9 239.6 L762.0 241.9 L761.6 244.8 L763.2 247.4 L763.5 250.1 L763.7 252.9 L763.3 255.7 L764.5 258.4 L764.5 261.2 L766.9 261.2 L768.4 263.9 L769.1 266.9 L770.5 269.6 L772.9 269.7 L775.3 269.6 L775.9 272.2 L776.2 274.9 L777.4 277.5 L778.0 280.1 L777.7 282.9 L779.9 281.6 L782.5 281.7 L784.3 283.8 L784.5 286.7 L786.1 288.9 L786.7 291.6 L788.6 293.7 L789.3 291.4 L790.9 289.6 L792.2 287.7 L793.7 290.3 L793.9 293.3 L794.6 296.1 L795.1 299.1 L795.9 301.9 L796.2 304.9 L797.4 307.7 L798.2 310.6 L799.7 313.4 L800.0 316.6 L801.1 319.6 L802.0 322.6 L803.1 325.6 L804.5 328.5 L804.6 331.7 L805.7 334.7 L806.9 332.4 L808.3 330.2 L809.2 327.7 L810.0 330.3 L811.0 332.8 L811.3 335.5 L812.0 338.1 L812.2 340.8 L812.7 343.4 L813.9 346.1 L814.7 348.8 L814.8 351.8 L816.0 354.5 L816.2 357.4 L819.7 359.2 L821.1 362.1 L822.0 365.1 L822.0 368.4 L823.2 371.4 L823.9 374.5 L825.1 377.4 L826.7 380.1 L828.2 382.9 L829.7 385.8 L831.1 388.6 L833.1 391.2 L834.6 394.0 L835.7 396.7 L836.6 399.6 L837.9 402.2 L839.0 404.9 L840.1 407.7 L841.5 410.3 L843.3 408.6 L844.7 406.5 L846.5 404.8 L848.5 403.3 L849.4 405.8 L851.0 407.9 L851.5 410.5 L853.2 412.6 L853.7 415.6 L853.6 418.6 L854.8 421.5 L854.8 424.6 L854.3 427.7 L855.7 430.5 L855.5 433.6 L857.1 435.5 L859.5 436.6 L860.6 439.0 L862.5 440.6 L864.9 441.7 L867.2 442.9 L867.2 445.9 L867.9 448.8 L868.5 451.7 L869.7 454.5 L869.8 457.5 L871.2 460.3 L871.2 463.3 L871.8 466.2 L874.2 467.6 L876.5 469.3 L878.8 470.9 L880.1 473.4 L881.2 476.1 L881.8 478.9 L882.6 481.6 L883.7 484.2 L884.2 487.1 L885.8 489.5 L888.1 490.3 L890.6 490.5 L892.8 491.8 L893.8 494.2 L895.4 496.4 L895.7 499.1 L897.5 501.2 L899.8 502.3 L901.4 504.2 L903.3 505.8 L904.0 502.8 L904.9 499.9 L904.6 496.8 L904.8 493.8 L905.9 490.9 L906.3 487.9 L906.3 484.8 L906.0 487.8 L906.7 490.7 L907.9 493.5 L907.0 496.5 L907.4 499.4 L908.5 502.3 L908.5 505.2 L909.1 508.1 L909.3 510.9 L909.8 513.6 L910.8 516.2 L912.4 518.6 L913.1 521.3 L913.3 524.1 L913.8 526.8 L915.0 529.5 L916.4 532.1 L917.0 535.1 L918.1 537.8 L919.8 540.3 L920.8 543.1 L921.4 546.0 L923.1 548.6 L922.9 551.7 L924.8 554.2 L925.4 557.1 L927.9 557.4 L930.1 558.5 L932.4 559.4 L933.8 561.5 L935.8 563.0 L937.5 564.8 L939.4 566.4 L940.6 569.0 L942.7 571.0 L944.1 573.4 L945.9 571.4 L947.1 569.1 L947.6 566.4 L950.5 567.6 L953.4 568.7 L953.8 571.5 L954.4 574.3 L955.6 576.9 L957.0 579.4 L957.0 582.3 L958.0 585.0 L959.5 587.8 L960.3 590.8 L962.6 593.2 L964.3 595.9 L965.0 599.0 L967.0 601.1 L968.5 603.4 L969.7 606.0 L972.1 606.6 L974.5 607.1 L976.7 608.3 L979.3 607.3 L982.1 606.9 L984.8 606.0 L987.5 604.7 L990.6 604.3 L993.4 603.3 L996.3 602.7" stroke="#3f5eb2"/>
<path d="M149.2 361.0 L149.8 320.0 L149.9 316.9 L150.2 313.9 L150.3 310.8 L149.7 307.7 L149.6 304.6 L150.2 301.5 L150.2 298.5 L151.1 295.4 L151.0 292.3 L151.0 289.2 L151.0 286.2 L151.2 283.1 L151.1 280.0 L151.6 224.8 L151.1 221.7 L151.7 218.6 L151.3 215.5 L152.5 212.4 L151.3 209.2 L152.6 206.2 L151.5 203.0 L152.5 200.0 L152.1 196.8 L152.3 193.7 L153.0 190.6 L151.8 187.5 L152.0 184.4 L153.3 181.3 L152.8 178.2 L153.0 175.0 L152.6 171.8 L154.2 168.7 L154.3 165.6 L153.3 162.3 L153.9 159.2 L153.7 156.0 L154.2 152.8 L154.9 149.7 L154.4 146.4 L155.1 143.3 L156.3 140.8 L156.2 137.8 L157.3 135.3 L158.6 132.8 L161.3 133.0 L163.8 132.1 L166.5 131.8 L169.1 131.6 L172.0 132.3 L174.9 132.8 L176.5 135.1 L178.2 137.4 L179.6 139.8 L181.2 142.7 L181.0 146.0 L181.6 149.1 L182.4 152.2 L183.7 155.1 L185.1 158.0 L185.9 161.1 L186.6 164.2 L187.2 167.2 L188.1 170.1 L189.8 172.8 L190.1 175.9 L191.0 178.6 L191.2 181.4 L191.5 184.2 L191.5 187.1 L192.4 189.8 L192.9 192.8 L194.1 195.7 L193.4 198.9 L194.5 201.8 L194.9 204.8 L195.8 207.7 L195.9 210.8 L196.1 207.9 L196.3 205.0 L197.1 202.1 L197.0 199.2 L200.5 196.8 L202.5 197.9 L203.6 200.0 L205.2 201.5 L207.5 201.0 L209.8 201.5 L212.0 199.4 L213.2 196.4 L215.7 194.5 L216.7 197.2 L217.4 200.0 L217.7 202.8 L219.2 205.4 L219.4 208.3 L220.5 211.0 L221.1 213.8 L221.5 216.6 L223.8 216.6 L226.1 216.6 L225.9 219.5 L227.1 222.2 L226.9 225.1 L228.5 227.7 L228.5 230.6 L228.4 233.6 L229.6 236.4 L230.0 238.2 L231.1 240.5 L232.2 242.8 L232.4 245.5 L233.6 247.8 L237.2 246.6 L237.2 249.4 L239.1 251.7 L239.3 254.4 L239.2 257.2 L240.4 259.6 L240.8 262.3 L241.4 259.8 L242.0 257.2 L242.9 254.9 L244.5 252.7 L248.1 255.1 L248.4 257.9 L248.4 260.7 L248.9 263.5 L250.2 266.1 L251.4 268.7 L251.4 271.5 L251.7 274.3 L251.7 276.8 L252.0 279.2 L252.9 281.6 L254.3 278.8 L254.9 275.8 L256.5 273.1 L257.1 275.8 L257.7 278.5 L258.1 281.3 L258.9 284.0 L258.9 281.1 L260.4 278.5 L260.7 275.6 L260.0 272.7 L260.6 269.9 L261.3 267.1 L262.2 264.1 L261.6 261.0 L262.9 258.1 L262.5 255.1 L263.1 252.1 L263.4 249.1 L263.0 246.0 L263.7 243.0 L263.9 239.8 L264.3 236.7 L265.4 233.6 L265.9 230.5 L266.1 227.3 L269.8 224.9 L270.8 227.5 L270.2 230.3 L271.4 232.9 L272.1 235.5 L272.2 238.2 L273.0 241.1 L272.9 244.2 L274.3 246.9 L274.9 249.8 L275.8 252.7 L275.8 255.8 L276.3 258.8 L277.2 261.8 L278.2 264.7 L281.8 262.3 L282.8 265.3 L283.5 268.3 L283.9 271.5 L285.4 274.3 L285.9 277.4 L287.1 280.4 L288.3 283.3 L289.0 286.4 L290.0 289.1 L290.3 292.1 L291.4 294.8 L291.8 292.2 L291.2 289.4 L292.5 286.9 L293.0 284.3 L292.7 281.6 L293.9 279.3 L294.9 276.9 L295.1 274.3 L298.7 271.9 L300.0 274.7 L302.3 276.7 L303.3 273.7 L304.5 270.8 L304.8 267.6 L305.9 264.7 L305.8 261.9 L306.6 259.3 L307.1 256.7 L308.5 254.2 L308.3 251.4 L310.7 250.2 L311.3 253.3 L312.4 256.3 L313.2 259.3 L314.3 262.3 L315.8 265.0 L316.2 268.1 L317.0 271.0 L318.4 273.8 L319.2 276.7 L320.8 279.4 L321.7 282.3 L322.8 285.2 L324.4 282.6 L326.4 280.4 L327.6 277.8 L327.7 274.8 L328.5 272.0 L330.0 269.5 L331.4 267.3 L333.4 265.7 L334.8 263.5 L338.4 264.7 L338.6 267.2 L339.4 269.6 L339.6 272.1 L340.8 274.3 L341.5 277.0 L342.5 279.7 L342.4 282.6 L343.0 285.3 L343.9 288.0 L343.7 290.9 L344.5 293.6 L346.9 297.2 L348.3 294.7 L349.8 292.2 L351.7 290.0 L353.1 292.7 L353.5 295.9 L355.3 298.4 L356.9 300.6 L357.3 303.2 L358.3 305.6 L358.9 308.1 L361.3 311.7 L361.8 309.1 L363.0 306.8 L363.6 304.3 L364.9 302.0 L366.2 299.5 L366.4 296.7 L367.4 294.2 L367.4 291.3 L368.6 288.8 L369.5 286.4 L370.5 284.1 L371.8 281.8 L372.2 279.2 L372.7 276.6 L373.9 274.3 L375.4 272.1 L375.8 269.5 L377.6 267.8 L378.3 265.3 L380.0 263.5 L380.8 266.6 L381.3 269.7 L382.6 272.6 L383.3 275.7 L384.3 278.2 L385.5 280.6 L386.9 282.9 L388.7 280.8 L389.4 278.1 L390.5 275.7 L391.9 273.8 L392.7 271.5 L394.1 269.6 L394.7 272.1 L396.1 274.4 L396.8 276.9 L397.7 279.3 L400.1 282.9 L400.4 280.0 L400.8 277.1 L401.0 274.1 L401.6 271.2 L402.5 268.4 L403.3 270.8 L404.6 273.1 L405.8 275.4 L406.1 278.1 L406.9 281.0 L408.8 283.4 L409.2 286.5 L411.0 288.9 L412.0 286.2 L412.6 283.4 L414.2 281.0 L414.6 278.1 L415.8 275.2 L415.5 272.0 L415.8 268.9 L417.0 266.0 L417.5 263.1 L418.0 260.3 L417.9 257.3 L418.4 254.5 L418.1 251.5 L418.6 248.7 L418.3 245.7 L418.8 242.9 L419.0 240.0 L419.4 237.1 L420.0 234.6 L420.9 232.3 L421.8 229.9 L425.4 228.7 L425.8 231.6 L427.5 234.2 L427.8 237.1 L428.7 239.9 L429.1 242.8 L428.5 245.9 L429.7 248.7 L430.2 251.6 L432.7 249.2 L432.9 246.9 L434.8 245.3 L435.1 243.1 L436.4 245.9 L438.7 248.0 L442.3 250.4 L445.9 249.2 L449.5 251.6 L451.1 249.4 L451.7 246.6 L453.1 244.3 L454.3 242.0 L454.6 239.4 L455.3 236.9 L456.7 234.7 L458.8 232.6 L460.4 230.2 L461.6 227.5 L465.2 228.7 L468.8 226.3 L470.4 228.9 L470.7 232.1 L472.4 234.7 L474.8 234.0 L477.2 234.7 L478.1 232.2 L478.9 229.6 L480.8 227.5 L483.5 228.3 L485.7 229.9 L487.9 228.2 L490.5 227.5 L491.7 225.2 L492.0 222.5 L492.8 220.1 L494.1 217.8 L495.3 215.5 L497.1 213.6 L498.9 211.8 L501.3 215.4 L502.0 218.1 L503.6 220.3 L504.9 222.7 L505.3 220.1 L507.0 217.9 L507.7 215.4 L508.6 213.0 L509.1 210.0 L509.8 207.0 L510.6 204.0 L511.0 201.0 L512.3 198.1 L512.8 194.9 L513.8 197.7 L514.6 200.6 L515.8 203.4 L520.0 204.6 L520.8 203.4 L523.3 199.8 L524.5 202.6 L525.5 205.5 L526.9 208.2 L529.3 207.4 L531.7 207.0 L532.6 209.4 L533.3 211.8 L534.1 214.2 L534.7 217.0 L536.2 219.5 L536.2 222.6 L537.7 225.1 L538.9 227.5 L539.6 230.1 L541.3 232.3 L542.5 230.0 L543.7 227.7 L544.3 225.2 L544.9 222.7 L546.0 219.8 L547.2 217.0 L548.6 214.2 L549.3 216.7 L550.0 219.2 L550.8 221.7 L552.2 223.9 L553.9 226.5 L555.2 229.2 L555.8 232.3 L557.3 234.5 L558.2 236.9 L559.1 239.3 L559.4 241.9 L561.3 244.0 L562.1 246.6 L563.0 249.2 L565.2 250.6 L566.6 252.8 L568.0 250.5 L569.0 248.0 L572.7 250.4 L573.3 247.4 L574.2 244.5 L574.6 241.4 L574.7 238.4 L575.4 235.4 L575.1 232.3 L574.7 229.5 L575.4 226.7 L576.8 224.1 L576.4 221.3 L576.4 218.5 L577.5 215.8 L577.5 213.0 L581.1 211.8 L581.8 214.2 L582.2 216.6 L583.2 218.9 L583.5 221.4 L585.6 223.6 L587.1 226.3 L587.8 224.0 L589.6 222.3 L590.7 220.2 L593.0 218.9 L594.3 216.6 L598.0 217.8 L599.6 215.7 L600.2 213.1 L601.3 210.8 L601.6 208.2 L605.2 210.6 L606.3 212.9 L607.3 215.3 L607.3 218.0 L608.8 220.2 L609.3 223.3 L609.8 226.3 L611.3 229.1 L611.2 232.3 L612.7 234.1 L613.6 236.3 L614.8 238.3 L616.0 235.7 L617.1 233.1 L617.9 230.3 L618.4 227.5 L618.8 225.0 L619.4 222.6 L620.7 220.4 L620.8 217.8 L624.5 217.8 L625.8 215.6 L625.7 213.0 L625.9 210.5 L626.9 208.2 L627.6 211.3 L628.6 214.2 L629.8 217.1 L630.5 220.2 L631.3 217.2 L632.7 214.5 L634.1 211.8 L635.5 209.5 L636.0 206.7 L637.7 204.6 L638.8 207.4 L639.5 210.5 L641.3 213.0 L641.9 215.8 L643.5 218.3 L644.1 221.1 L644.9 223.9 L645.1 221.3 L646.8 219.1 L647.3 216.6 L649.0 218.5 L651.0 220.2 L652.4 217.5 L654.6 215.4 L656.4 217.1 L658.1 218.7 L660.0 220.2 L662.0 222.7 L662.8 225.1 L664.0 227.4 L665.0 229.8 L665.7 232.3 L667.1 235.0 L667.4 238.2 L669.3 240.7 L671.3 242.9 L672.9 245.5 L676.5 245.5 L680.1 244.3 L681.3 246.7 L682.6 249.1 L683.7 251.6 L686.1 255.2 L686.0 252.3 L686.8 249.5 L686.9 246.7 L687.5 243.9 L688.0 241.1 L688.6 238.3 L689.6 240.2 L689.6 242.5 L691.0 244.3 L692.5 246.6 L693.4 249.2 L695.4 251.4 L697.0 254.0 L698.0 256.5 L699.5 258.7 L700.6 261.2 L701.8 263.2 L702.8 265.3 L704.2 267.2 L706.0 269.3 L706.6 272.0 L706.8 274.9 L708.2 277.7 L708.4 280.6 L708.1 283.7 L709.0 286.5 L708.6 289.6 L709.3 292.6 L710.4 295.5 L710.2 298.6 L712.1 300.3 L713.9 302.2 L717.5 302.2 L718.6 304.9 L718.6 307.9 L719.9 310.6 L722.3 312.0 L725.9 311.4 L728.0 313.3 L729.5 315.7 L730.7 318.2 L730.7 321.0 L731.5 323.7 L732.3 326.3 L733.1 328.9 L735.6 329.5 L738.0 330.1 L737.9 333.0 L739.3 335.5 L739.2 338.4 L740.4 341.0 L741.5 343.3 L742.2 345.8 L743.3 348.1 L744.0 350.6 L744.5 353.1 L745.2 355.5 L746.4 357.8 L747.9 355.7 L750.0 354.2 L753.6 353.0 L756.0 349.4 L756.8 352.2 L757.3 355.1 L758.4 357.8 L762.0 360.2 L762.3 363.2 L762.4 366.3 L762.8 369.3 L763.3 372.3 L763.4 375.3 L764.3 378.1 L764.8 381.0 L765.7 383.9 L764.8 387.0 L765.3 389.9 L766.3 392.7 L765.9 395.8 L767.0 398.6 L767.3 401.7 L769.3 404.3 L769.1 407.5 L770.6 410.2 L771.6 413.1 L772.6 416.0 L773.2 419.0 L774.0 421.9 L774.4 419.0 L775.4 416.3 L776.5 413.7 L777.7 411.2 L778.5 408.4 L779.5 405.8 L781.0 403.3 L781.3 406.2 L782.7 408.7 L783.3 411.4 L783.9 414.2 L784.2 417.1 L785.6 419.6 L786.9 422.6 L787.6 425.7 L787.4 429.0 L788.1 432.2 L788.9 435.3 L790.3 438.2 L791.8 439.8 L793.5 441.2 L794.9 442.9 L795.9 445.7 L795.3 448.7 L796.1 451.5 L796.9 454.3 L797.1 457.2 L798.4 459.9 L798.5 462.8 L798.5 465.8 L799.6 468.5 L800.7 471.2 L800.5 474.2 L801.6 477.0 L801.2 480.0 L801.7 482.9 L802.5 485.7 L803.4 488.5 L804.5 491.2 L804.3 494.2 L805.5 496.9 L806.8 499.5 L807.9 502.3 L809.5 504.8 L809.6 508.0 L811.3 510.5 L811.9 513.5 L812.5 516.5 L812.8 519.6 L813.3 522.6 L814.5 525.4 L815.2 528.4 L815.9 531.4 L815.7 534.5 L816.7 537.4 L816.3 540.5 L817.9 543.3 L817.1 546.4 L817.8 549.4 L818.2 552.4 L820.6 551.8 L823.1 551.6 L825.2 550.1 L827.8 551.3 L829.9 553.1 L832.2 554.7 L833.2 557.3 L834.7 559.6 L836.4 561.7 L837.4 564.3 L839.2 566.4 L839.3 569.5 L839.4 572.7 L840.1 575.7 L840.9 578.8 L841.4 581.9 L841.5 585.0 L843.8 587.0 L845.5 589.4 L847.3 591.6 L848.5 594.4 L848.8 597.4 L850.9 599.8 L851.2 602.8 L852.8 605.3 L853.2 608.3 L855.0 606.3 L855.6 603.7 L856.2 601.1 L858.3 599.2 L859.0 596.7 L859.1 599.5 L859.5 602.3 L861.2 604.8 L861.5 607.5 L861.7 610.3 L862.5 613.0 L863.8 615.5 L864.4 618.4 L865.2 621.1 L866.1 623.8 L867.0 626.5 L868.1 629.1 L869.5 631.6 L871.3 633.8 L872.3 636.5 L874.2 638.6 L875.1 641.3 L876.2 643.9 L877.2 646.6 L877.1 649.5 L878.2 652.1 L878.8 654.9 L881.0 656.9 L882.3 659.5 L884.2 661.8 L885.8 664.2 L887.7 665.8 L889.2 667.8 L891.0 669.5 L892.8 671.2 L894.5 673.6 L895.7 676.3 L897.6 678.6 L899.8 680.6 L902.0 679.5 L904.6 679.5 L906.8 678.2 L908.7 679.8 L909.8 682.2 L912.5 683.0 L913.8 685.2 L916.3 686.5 L918.1 688.8 L920.6 690.0 L923.1 691.3 L925.4 693.2 L928.4 694.2 L930.9 695.8 L933.1 697.9" stroke="#243a9d"/>
<path d="M148.7 130.5 L151.6 130.1 L154.5 131.1 L157.4 131.2 L160.3 131.8 L163.3 130.9 L166.2 131.1 L169.1 131.6 L169.5 134.4 L170.4 137.1 L171.4 139.8 L174.2 140.3 L176.8 141.6 L179.6 142.1 L181.2 143.6 L182.4 145.5 L184.2 146.8 L185.4 149.0 L185.8 151.3 L185.4 153.9 L186.6 156.1 L187.3 153.7 L188.0 151.3 L189.7 149.3 L190.1 146.8 L191.1 149.8 L192.9 152.4 L193.5 155.5 L194.7 158.4 L195.3 161.1 L196.9 163.5 L197.1 166.3 L198.2 168.9 L199.2 171.6 L199.4 174.5 L200.2 177.2 L200.5 180.0 L200.5 182.9 L201.0 185.5 L203.0 187.5 L203.4 190.2 L205.2 192.2 L206.8 193.7 L208.2 195.4 L209.8 196.8 L210.3 199.7 L211.5 202.3 L213.3 204.8 L213.6 207.7 L214.5 210.5 L215.7 213.1 L216.1 210.1 L216.9 207.1 L218.9 204.6 L219.2 201.5 L220.4 199.6 L221.1 197.4 L222.7 195.7 L223.9 197.6 L225.3 199.4 L226.1 201.5 L226.9 204.4 L228.4 206.9 L229.6 209.6 L230.0 208.1 L233.6 209.3 L234.7 212.1 L234.1 215.1 L235.6 217.8 L235.8 220.8 L236.0 223.7 L238.1 221.9 L240.8 221.3 L242.9 219.1 L244.5 216.5 L245.5 219.2 L245.3 222.1 L246.3 224.9 L246.1 227.8 L246.2 230.6 L246.9 233.4 L247.6 236.1 L248.4 238.7 L249.1 241.3 L249.9 243.9 L250.5 246.6 L251.8 244.7 L252.4 242.3 L254.1 240.6 L256.5 240.6 L258.9 240.6 L261.0 242.1 L262.5 244.2 L266.1 243.0 L266.9 245.4 L268.0 247.5 L270.3 249.0 L271.0 251.4 L273.7 252.8 L275.8 255.1 L278.3 254.2 L280.6 252.7 L281.7 255.1 L283.6 257.2 L284.2 259.9 L284.9 262.4 L285.5 264.9 L287.2 267.1 L288.3 269.4 L289.0 271.9 L290.0 269.5 L291.5 267.3 L291.4 264.6 L292.7 262.3 L294.6 261.2 L296.5 260.3 L298.7 259.9 L300.1 262.4 L301.9 264.7 L303.5 267.1 L305.7 265.6 L308.3 264.7 L310.4 265.8 L312.7 266.5 L314.3 268.3 L315.8 270.3 L316.1 272.9 L317.9 274.7 L319.2 276.7 L319.6 273.7 L321.3 271.1 L321.2 268.0 L321.7 265.1 L322.8 262.3 L324.0 259.5 L326.4 257.5 L329.1 258.9 L331.2 261.1 L332.4 263.6 L333.0 266.3 L332.8 269.2 L334.4 271.6 L334.8 274.3 L336.1 276.6 L336.5 279.2 L336.9 281.8 L338.4 284.0 L339.9 285.9 L340.5 288.4 L342.2 290.2 L343.3 292.4 L345.8 290.7 L348.1 288.8 L348.6 285.7 L349.4 282.7 L349.5 279.5 L349.5 276.4 L350.3 273.4 L350.0 270.2 L350.5 267.1 L350.8 264.3 L352.2 261.7 L352.1 258.8 L353.0 256.1 L352.8 253.3 L354.2 250.7 L354.1 247.8 L355.2 245.5 L355.7 242.9 L357.6 240.8 L357.9 238.2 L358.9 235.8 L362.5 233.4 L363.5 236.0 L364.3 238.6 L365.2 241.2 L365.8 243.8 L366.1 246.6 L366.8 249.4 L368.5 251.9 L369.2 254.7 L369.8 257.5 L370.8 259.9 L371.5 262.3 L372.7 264.6 L373.4 267.1 L374.4 264.8 L374.2 262.2 L375.0 259.9 L375.8 257.5 L377.8 256.2 L380.0 255.1 L381.5 257.3 L382.0 260.0 L382.9 257.0 L384.0 254.2 L385.7 251.6 L387.2 249.3 L387.6 246.5 L389.3 244.3 L390.3 241.5 L390.3 238.4 L391.7 235.7 L392.4 232.8 L392.9 229.9 L393.6 226.8 L395.3 224.0 L395.8 220.9 L396.5 217.8 L398.9 216.7 L401.3 215.4 L402.6 218.3 L402.6 221.4 L403.4 224.4 L403.7 227.5 L404.9 229.9 L405.5 232.6 L407.3 234.7 L407.6 237.3 L409.6 239.3 L409.8 241.9 L413.4 240.7 L415.0 242.7 L417.0 244.3 L417.3 247.5 L418.7 250.4 L420.3 253.2 L420.6 256.4 L421.3 259.0 L423.1 261.2 L424.2 263.6 L426.3 262.5 L427.8 260.8 L429.0 258.8 L430.7 256.6 L432.0 254.3 L432.7 251.6 L435.1 250.4 L436.9 252.1 L437.1 254.6 L438.7 256.4 L440.2 258.2 L441.6 260.1 L442.3 262.4 L444.6 261.0 L447.1 260.0 L449.6 258.3 L451.9 256.4 L454.5 256.3 L456.7 257.6 L460.4 260.0 L461.2 257.3 L462.6 254.7 L463.1 251.9 L464.0 249.2 L466.4 248.0 L468.8 248.0 L471.2 248.0 L472.7 250.7 L473.0 253.9 L474.8 256.4 L476.3 259.1 L477.0 262.1 L478.4 264.8 L479.4 267.3 L481.5 269.3 L482.0 272.0 L482.6 274.8 L484.8 276.7 L485.7 279.3 L488.4 278.8 L490.5 276.9 L492.3 274.3 L493.5 271.5 L494.1 268.4 L495.8 265.9 L496.4 262.9 L497.6 260.3 L498.9 257.6 L502.5 255.2 L505.0 256.2 L507.3 257.6 L507.9 260.7 L510.4 262.9 L511.0 266.0 L511.3 263.8 L513.2 262.3 L513.4 260.0 L514.2 263.0 L515.5 265.7 L517.0 268.4 L517.4 270.7 L519.0 272.5 L520.0 274.5 L520.8 272.0 L523.5 271.3 L525.7 269.6 L527.6 272.0 L529.3 274.5 L530.5 276.5 L533.0 277.2 L534.1 279.3 L535.0 276.8 L536.1 274.5 L537.4 272.2 L537.8 269.6 L538.9 267.2 L539.9 269.5 L540.7 271.8 L542.6 273.5 L543.7 275.7 L546.0 274.1 L548.6 273.3 L549.9 276.0 L549.3 279.0 L550.4 281.7 L551.2 284.5 L551.6 287.3 L552.2 290.1 L554.2 291.7 L555.7 293.8 L557.0 296.1 L557.3 293.4 L558.1 290.7 L559.7 288.3 L559.5 285.4 L560.6 282.9 L561.9 280.1 L564.2 278.1 L567.8 276.9 L568.5 279.2 L570.1 280.9 L571.4 282.9 L572.7 280.1 L575.1 278.1 L576.2 275.8 L577.2 273.3 L578.0 270.9 L578.7 268.4 L580.0 266.1 L580.4 263.6 L581.0 261.1 L582.3 258.8 L582.8 261.9 L583.9 264.9 L584.7 267.9 L585.9 270.8 L586.6 273.8 L586.6 277.0 L586.4 280.1 L587.1 283.1 L587.1 286.3 L587.5 289.3 L587.4 292.5 L588.3 295.5 L588.3 298.6 L589.9 300.6 L591.1 302.9 L593.1 304.6 L595.1 306.8 L596.7 309.4 L599.2 308.2 L600.1 310.9 L599.8 313.8 L600.4 316.6 L604.0 317.8 L603.9 315.1 L605.5 312.6 L605.1 309.8 L606.5 307.3 L606.4 304.6 L606.9 301.8 L606.7 298.9 L607.6 296.2 L608.3 293.4 L608.4 290.5 L608.8 287.7 L609.6 285.3 L609.8 282.9 L611.3 280.7 L611.2 278.1 L613.5 277.0 L616.0 276.9 L617.0 274.3 L616.5 271.3 L617.8 268.7 L618.4 266.0 L620.6 264.2 L623.3 263.6 L625.6 262.5 L628.1 262.4 L629.2 264.5 L630.0 266.7 L631.7 268.4 L635.3 268.4 L636.9 266.4 L638.9 264.8 L640.8 266.5 L642.5 268.4 L646.1 270.8 L646.5 273.6 L646.7 276.3 L647.4 279.0 L647.7 281.8 L647.4 284.7 L648.2 287.4 L648.6 290.1 L652.2 291.3 L655.8 288.9 L658.0 289.9 L660.0 291.3 L660.5 294.5 L662.0 297.3 L662.6 299.7 L664.6 301.3 L665.7 303.4 L667.0 306.0 L667.2 308.9 L666.9 311.9 L668.6 314.5 L669.1 317.3 L669.3 320.2 L671.7 322.7 L672.6 320.0 L672.2 317.1 L673.8 314.5 L673.4 311.6 L674.1 308.9 L674.9 306.2 L675.3 303.4 L678.9 301.0 L682.5 299.8 L683.7 302.1 L683.3 304.7 L684.4 307.0 L684.9 309.4 L688.6 308.2 L689.8 305.5 L690.6 302.7 L691.0 299.8 L692.8 301.9 L693.0 304.8 L694.6 307.0 L694.9 309.6 L696.4 311.8 L696.6 314.4 L697.9 316.7 L698.2 319.3 L698.7 322.0 L699.0 324.8 L700.2 327.4 L700.6 330.1 L701.2 332.8 L702.3 335.4 L701.9 338.4 L703.0 341.0 L705.4 340.6 L707.8 339.8 L711.4 338.6 L712.2 335.7 L711.3 332.7 L712.5 329.9 L711.8 326.9 L712.7 324.1 L716.3 322.9 L716.8 325.3 L717.9 327.6 L717.5 330.2 L718.7 332.5 L718.6 329.5 L719.6 326.7 L720.1 323.9 L720.5 321.0 L721.1 318.1 L721.7 315.7 L723.7 314.2 L724.7 312.0 L727.1 313.3 L726.7 316.3 L728.0 319.1 L727.5 322.1 L728.7 324.9 L729.2 327.8 L729.2 330.8 L729.5 333.7 L729.1 336.9 L729.8 339.9 L730.3 343.0 L731.6 346.0 L731.3 349.2 L732.3 352.2 L731.9 355.4 L734.6 356.0 L736.7 357.8 L737.5 360.8 L738.3 363.8 L739.2 366.8 L739.2 369.9 L740.1 372.3 L740.6 374.8 L741.3 377.3 L742.8 379.5 L745.1 377.5 L746.4 374.7 L748.8 372.3 L749.5 375.3 L750.5 378.2 L749.9 381.4 L751.2 384.3 L751.5 387.4 L751.8 390.5 L751.2 393.6 L751.8 396.7 L751.4 399.8 L751.9 402.9 L752.4 406.0 L753.0 408.3 L755.2 409.7 L756.0 412.0 L755.8 415.0 L756.9 417.8 L757.1 420.7 L758.2 423.6 L758.4 426.5 L759.2 429.5 L759.5 432.5 L760.1 435.5 L759.3 438.7 L761.0 441.5 L760.8 444.6 L761.8 447.3 L761.9 450.3 L763.2 453.0 L763.8 455.8 L764.4 458.6 L764.7 461.5 L766.0 464.1 L767.3 466.7 L767.3 469.8 L768.3 472.5 L769.8 475.1 L770.5 477.9 L770.2 481.1 L771.0 484.1 L771.8 487.2 L771.0 490.4 L772.4 493.4 L771.8 496.5 L772.1 499.6 L773.6 502.6 L772.6 505.8 L773.5 508.9 L773.7 512.0 L774.0 515.1 L773.6 518.0 L774.6 520.8 L775.2 523.6 L775.7 526.5 L774.7 529.4 L775.6 532.2 L775.5 535.1 L775.8 538.0 L776.3 540.8 L777.3 537.7 L777.5 534.5 L777.7 531.4 L777.3 528.1 L778.2 525.0 L777.5 521.8 L777.5 518.6 L778.5 515.5 L777.8 512.3 L779.5 509.2 L778.8 506.0 L779.2 502.8 L779.2 499.6 L779.8 496.5 L779.6 493.4 L780.0 490.3 L780.5 487.3 L779.4 484.2 L780.0 481.1 L780.0 478.0 L781.1 475.0 L780.4 471.9 L780.5 468.8 L781.4 465.8 L780.6 462.7 L780.7 459.6 L780.8 456.5 L780.7 453.4 L781.5 450.4 L781.0 447.3 L781.4 444.2 L781.6 441.1 L781.9 438.1 L782.0 435.0 L781.7 431.9 L782.5 428.8 L782.6 425.8 L782.7 422.7 L782.1 419.6 L785.6 417.3 L785.6 420.2 L786.3 423.1 L786.7 426.0 L786.3 429.0 L787.1 431.9 L787.0 434.8 L787.9 437.7 L788.0 440.6 L789.0 443.3 L790.2 445.8 L790.0 448.8 L791.4 451.4 L791.8 454.2 L792.6 456.9 L793.5 459.8 L794.5 462.5 L795.5 465.3 L797.0 467.9 L798.8 470.3 L799.6 473.2 L800.0 476.4 L802.2 479.0 L802.7 482.2 L803.0 485.4 L804.1 488.4 L805.5 491.2 L806.6 494.2 L807.5 496.8 L809.8 498.6 L811.4 500.8 L812.5 503.3 L813.6 505.8 L814.4 508.9 L817.0 511.1 L818.0 514.1 L819.2 517.0 L820.6 519.8 L821.9 522.6 L821.8 525.8 L823.8 528.4 L824.7 531.3 L824.3 534.6 L826.6 537.1 L827.1 540.1 L827.6 543.1 L828.2 546.1 L828.0 549.2 L829.2 552.2 L829.3 555.2 L829.4 558.3 L830.2 561.3 L830.3 564.4 L832.0 567.2 L831.7 570.4 L832.2 573.4 L833.8 576.1 L833.4 579.4 L835.5 581.9 L836.3 584.9 L836.7 587.9 L837.3 590.9 L839.0 593.6 L839.2 596.7 L840.2 599.5 L842.1 601.9 L842.9 604.7 L844.5 607.3 L844.7 610.4 L846.2 613.0 L846.7 615.8 L847.8 618.5 L849.4 620.9 L850.6 623.5 L850.6 626.5 L851.8 629.1 L853.2 631.6 L854.6 634.0 L857.0 635.3 L858.4 637.6 L860.5 639.3 L862.5 641.0 L863.5 644.0 L865.3 646.6 L866.3 649.5 L868.1 652.1 L869.5 654.9 L871.2 657.1 L872.3 659.6 L874.3 661.6 L874.9 664.4 L876.5 666.6 L878.4 668.8 L880.4 671.0 L881.4 673.8 L883.5 675.9 L885.2 678.2 L887.2 680.4 L888.2 683.3 L890.5 685.2 L892.4 687.6 L895.2 689.0 L897.5 691.0 L899.8 693.0 L902.6 694.3 L904.6 696.6 L906.7 698.7" stroke="#262f6f"/>
</g>
<g stroke="#111" stroke-width="4" fill="none">
<path d="M128 128.2H991.4" stroke-width="3.9"/>
<path d="M709.5 127.8H991.4" stroke-width="4.6"/>
<path d="M146.6 128V695"/>
<path d="M128 276.7H146"/>
<path d="M128 416.4H146"/>
<path d="M128 555.6H146"/>
<path d="M128 693H146"/>
</g>
<rect x="1062.5" y="269.5" width="57" height="8" fill="#cddff6"/>
<text x="1136" y="281.3" font-size="26">2 weeks</text>
<rect x="1062.5" y="302.5" width="57" height="8" fill="#a8c3ea"/>
<text x="1136" y="314.3" font-size="26">4 weeks</text>
<rect x="1062.5" y="333" width="57" height="8" fill="#7399d2"/>
<text x="1136" y="344.8" font-size="26">6 weeks</text>
<rect x="1062.5" y="365.5" width="57" height="8" fill="#5279c0"/>
<text x="1136" y="377.3" font-size="26">8 weeks</text>
<rect x="1062.5" y="399" width="57" height="8" fill="#3f5eb2"/>
<text x="1136" y="410.8" font-size="26">10 weeks</text>
<rect x="1062.5" y="430" width="57" height="8" fill="#243a9d"/>
<text x="1136" y="441.8" font-size="26">12 weeks</text>
<rect x="1062.5" y="462" width="57" height="8" fill="#262f6f"/>
<text x="1136" y="473.8" font-size="26">14 weeks</text>
<text x="-0.5" y="800.6" font-size="42">B</text>
<text x="514.5" y="801.8" font-size="33.5" text-anchor="middle">Number of weeks after craniotomy</text>
<text x="203.6" y="863.4" font-size="24" text-anchor="middle">2</text>
<text x="308.7" y="863.4" font-size="24" text-anchor="middle">4</text>
<text x="416.5" y="863.4" font-size="24" text-anchor="middle">6</text>
<text x="514.4" y="863.4" font-size="24" text-anchor="middle">8</text>
<text x="616.3" y="863.4" font-size="24" text-anchor="middle">10</text>
<text x="724.4" y="863.4" font-size="24" text-anchor="middle">12</text>
<text x="824.6" y="863.4" font-size="24" text-anchor="middle">14</text>
<text x="1032.3" y="849.3" font-size="24.8" text-anchor="middle">average</text>
<text x="1032.3" y="879" font-size="24.8" text-anchor="middle">across time</text>
<text transform="translate(28.5,1102.5) rotate(-90)" font-size="33.5" text-anchor="middle">Cortical depth from pial surface (μm)</text>
<text x="101" y="1022.8" font-size="26" text-anchor="end">200</text>
<text x="101" y="1148.8" font-size="26" text-anchor="end">400</text>
<text x="101" y="1273.3" font-size="26" text-anchor="end">600</text>
<g stroke="#111" stroke-width="4" fill="none">
<path d="M123 888.5H874"/>
<path d="M148 888V1335"/>
<path d="M123 949.3H148.5"/>
<path d="M123 1013.5H148.5"/>
<path d="M123 1076.5H148.5"/>
<path d="M123 1139.7H148.5"/>
<path d="M123 1201.9H148.5"/>
<path d="M123 1264.8H148.5"/>
<path d="M123 1328.9H148.5"/>
<path d="M973.5 888.5H1091"/>
</g>
<circle cx="201" cy="1074.6" r="7.9"/>
<circle cx="306.5" cy="1149.3" r="7.9"/>
<circle cx="411" cy="1087.5" r="7.9"/>
<circle cx="513" cy="1189" r="7.9"/>
<circle cx="616.7" cy="1202" r="7.9"/>
<circle cx="720.8" cy="1170.4" r="7.9"/>
<circle cx="823.6" cy="1162.7" r="7.9"/>
<rect x="190.8" y="1168" width="24.1" height="4"/>
<rect x="296" y="1265.8" width="23.0" height="4"/>
<rect x="398.8" y="1171" width="23.7" height="4"/>
<rect x="502" y="1273" width="23.0" height="4"/>
<rect x="605" y="1301.9" width="24.4" height="4"/>
<rect x="709" y="1289.7" width="24.0" height="4"/>
<rect x="812" y="1257" width="23.7" height="4"/>
<g stroke="#111" stroke-width="1.8" fill="none">
<path d="M1031.7 1104.2V1193.9M1023.7 1104.2H1039.7M1023.7 1193.9H1039.7"/>
<path d="M1031.7 1198.7V1301.3M1023.7 1198.7H1039.7M1023.7 1301.3H1039.7"/>
</g>
<circle cx="1031.8" cy="1147.9" r="10.8"/>
<rect x="1017" y="1245.8" width="30" height="7.7"/>
</svg>
</body></html>
